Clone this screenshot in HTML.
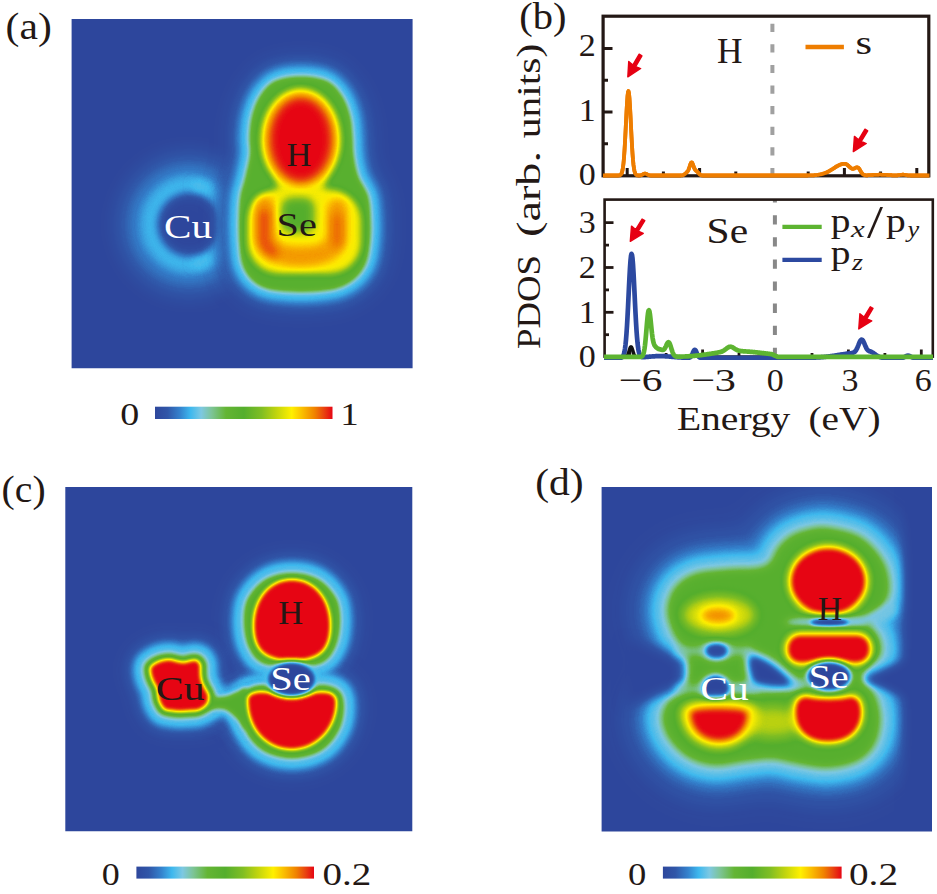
<!DOCTYPE html>
<html><head><meta charset="utf-8"><title>figure</title>
<style>
html,body{margin:0;padding:0;background:#fff;}
svg{display:block;}
text{font-family:"Liberation Serif",serif;fill:#231815;}
.w{fill:#fff;}
.it{font-style:italic;}
</style></head><body>
<svg width="937" height="894" viewBox="0 0 937 894">
<defs>
<filter id="jet" x="0" y="0" width="100%" height="100%" color-interpolation-filters="sRGB">
<feComponentTransfer>
<feFuncR type="table" tableValues="0.180 0.183 0.185 0.187 0.190 0.195 0.199 0.204 0.217 0.230 0.243 0.325 0.408 0.490 0.490 0.490 0.490 0.466 0.441 0.417 0.392 0.380 0.367 0.355 0.342 0.329 0.364 0.398 0.433 0.467 0.502 0.563 0.624 0.684 0.745 0.802 0.858 0.915 0.972 0.997 0.990 0.984 0.975 0.964 0.952 0.941 0.930 0.919 0.911 0.907 0.902"/>
<feFuncG type="table" tableValues="0.278 0.295 0.312 0.329 0.362 0.411 0.461 0.510 0.580 0.651 0.722 0.742 0.763 0.784 0.779 0.774 0.769 0.754 0.739 0.725 0.710 0.704 0.699 0.693 0.688 0.682 0.695 0.707 0.720 0.733 0.745 0.766 0.786 0.807 0.827 0.853 0.878 0.903 0.929 0.908 0.843 0.778 0.711 0.644 0.577 0.510 0.416 0.322 0.224 0.122 0.020"/>
<feFuncB type="table" tableValues="0.612 0.625 0.639 0.652 0.680 0.721 0.762 0.804 0.847 0.890 0.933 0.918 0.902 0.886 0.787 0.688 0.588 0.492 0.396 0.300 0.204 0.198 0.193 0.187 0.182 0.176 0.169 0.161 0.153 0.145 0.137 0.118 0.098 0.078 0.059 0.046 0.033 0.020 0.007 0.000 0.000 0.000 0.000 0.000 0.000 0.000 0.024 0.047 0.063 0.071 0.078"/>
</feComponentTransfer>
</filter>
<filter id="b2" filterUnits="userSpaceOnUse" x="0" y="0" width="937" height="894" color-interpolation-filters="sRGB"><feGaussianBlur stdDeviation="2"/></filter>
<filter id="b2_5" filterUnits="userSpaceOnUse" x="0" y="0" width="937" height="894" color-interpolation-filters="sRGB"><feGaussianBlur stdDeviation="2.5"/></filter>
<filter id="b3" filterUnits="userSpaceOnUse" x="0" y="0" width="937" height="894" color-interpolation-filters="sRGB"><feGaussianBlur stdDeviation="3"/></filter>
<filter id="b3_5" filterUnits="userSpaceOnUse" x="0" y="0" width="937" height="894" color-interpolation-filters="sRGB"><feGaussianBlur stdDeviation="3.5"/></filter>
<filter id="b4" filterUnits="userSpaceOnUse" x="0" y="0" width="937" height="894" color-interpolation-filters="sRGB"><feGaussianBlur stdDeviation="4"/></filter>
<filter id="b4_5" filterUnits="userSpaceOnUse" x="0" y="0" width="937" height="894" color-interpolation-filters="sRGB"><feGaussianBlur stdDeviation="4.5"/></filter>
<filter id="b5" filterUnits="userSpaceOnUse" x="0" y="0" width="937" height="894" color-interpolation-filters="sRGB"><feGaussianBlur stdDeviation="5"/></filter>
<filter id="b6" filterUnits="userSpaceOnUse" x="0" y="0" width="937" height="894" color-interpolation-filters="sRGB"><feGaussianBlur stdDeviation="6"/></filter>
<filter id="b7" filterUnits="userSpaceOnUse" x="0" y="0" width="937" height="894" color-interpolation-filters="sRGB"><feGaussianBlur stdDeviation="7"/></filter>
<filter id="b8" filterUnits="userSpaceOnUse" x="0" y="0" width="937" height="894" color-interpolation-filters="sRGB"><feGaussianBlur stdDeviation="8"/></filter>
<filter id="b9" filterUnits="userSpaceOnUse" x="0" y="0" width="937" height="894" color-interpolation-filters="sRGB"><feGaussianBlur stdDeviation="9"/></filter>
<filter id="b12" filterUnits="userSpaceOnUse" x="0" y="0" width="937" height="894" color-interpolation-filters="sRGB"><feGaussianBlur stdDeviation="12"/></filter>

<linearGradient id="cb" x1="0" x2="1" y1="0" y2="0"><stop offset="0.00" stop-color="rgb(46,71,156)"/><stop offset="0.07" stop-color="rgb(48,86,168)"/><stop offset="0.14" stop-color="rgb(52,130,205)"/><stop offset="0.20" stop-color="rgb(62,184,238)"/><stop offset="0.26" stop-color="rgb(125,200,226)"/><stop offset="0.32" stop-color="rgb(125,196,150)"/><stop offset="0.40" stop-color="rgb(100,181,52)"/><stop offset="0.50" stop-color="rgb(84,174,45)"/><stop offset="0.60" stop-color="rgb(128,190,35)"/><stop offset="0.68" stop-color="rgb(190,211,15)"/><stop offset="0.77" stop-color="rgb(255,240,0)"/><stop offset="0.83" stop-color="rgb(250,190,0)"/><stop offset="0.90" stop-color="rgb(240,130,0)"/><stop offset="0.95" stop-color="rgb(233,70,15)"/><stop offset="1.00" stop-color="rgb(230,5,20)"/></linearGradient>
<clipPath id="ca"><rect x="71.6" y="19" width="341" height="349.3"/></clipPath>
<clipPath id="cc"><rect x="65.3" y="486.9" width="347" height="344.3"/></clipPath>
<clipPath id="cd"><rect x="601.6" y="486.9" width="330.4" height="344.5"/></clipPath>
<clipPath id="cu"><rect x="603" y="10" width="326.5" height="168"/></clipPath>
<clipPath id="cl"><rect x="604" y="199.6" width="329.5" height="160.5"/></clipPath>
</defs>
<rect x="0" y="0" width="937" height="894" fill="#fff"/>

<!-- panel a -->
<g clip-path="url(#ca)"><g filter="url(#jet)">
<rect x="60" y="10" width="365" height="370" fill="#000"/>
<circle cx="189" cy="224.5" r="52" fill="none" stroke="rgb(28,28,28)" stroke-width="38" filter="url(#b9)"/>
<circle cx="189" cy="224.5" r="43" fill="none" stroke="rgb(45,45,45)" stroke-width="19" filter="url(#b6)"/>
<circle cx="190" cy="224.5" r="40" fill="none" stroke="rgb(52,52,52)" stroke-width="11" filter="url(#b4)"/>
<path d="M196,185.5 A39.5,39.5 0 0 1 196,263.5" fill="none" stroke="rgb(57,57,57)" stroke-width="8" stroke-linecap="round" stroke-linejoin="round" filter="url(#b4)"/>
<ellipse cx="226" cy="224" rx="8" ry="30" fill="rgb(51,51,51)" filter="url(#b5)"/>
<path d="M301.0,76.5 C309.7,76.5 320.2,77.8 327.0,81.0 C333.8,84.2 338.2,90.2 342.0,96.0 C345.8,101.8 348.2,109.2 350.0,116.0 C351.8,122.8 351.9,130.5 352.5,137.0 C353.1,143.5 352.6,148.5 353.5,155.0 C354.4,161.5 355.6,169.2 358.0,176.0 C360.4,182.8 365.9,188.7 368.0,196.0 C370.1,203.3 370.2,212.3 370.5,220.0 C370.8,227.7 370.8,234.8 370.0,242.0 C369.2,249.2 368.5,256.9 366.0,263.0 C363.5,269.1 359.7,274.3 355.0,278.5 C350.3,282.7 344.7,285.8 338.0,288.0 C331.3,290.2 323.5,290.9 315.0,291.5 C306.5,292.1 295.3,292.1 287.0,291.5 C278.7,290.9 271.1,290.2 265.0,288.0 C258.9,285.8 254.3,282.7 250.5,278.5 C246.7,274.3 243.8,269.1 242.0,263.0 C240.2,256.9 239.9,249.5 239.4,242.0 C238.9,234.5 238.8,225.7 239.0,218.0 C239.2,210.3 239.5,202.5 240.5,196.0 C241.5,189.5 243.4,185.8 245.0,179.0 C246.6,172.2 249.2,162.0 250.0,155.0 C250.8,148.0 249.2,143.5 249.5,137.0 C249.8,130.5 250.2,122.8 252.0,116.0 C253.8,109.2 256.2,101.8 260.0,96.0 C263.8,90.2 268.2,84.2 275.0,81.0 C281.8,77.8 292.3,76.5 301.0,76.5 Z" fill="rgb(15,15,15)" stroke="rgb(15,15,15)" stroke-width="44" stroke-linejoin="round" filter="url(#b8)"/>
<path d="M301.0,76.5 C309.7,76.5 320.2,77.8 327.0,81.0 C333.8,84.2 338.2,90.2 342.0,96.0 C345.8,101.8 348.2,109.2 350.0,116.0 C351.8,122.8 351.9,130.5 352.5,137.0 C353.1,143.5 352.6,148.5 353.5,155.0 C354.4,161.5 355.6,169.2 358.0,176.0 C360.4,182.8 365.9,188.7 368.0,196.0 C370.1,203.3 370.2,212.3 370.5,220.0 C370.8,227.7 370.8,234.8 370.0,242.0 C369.2,249.2 368.5,256.9 366.0,263.0 C363.5,269.1 359.7,274.3 355.0,278.5 C350.3,282.7 344.7,285.8 338.0,288.0 C331.3,290.2 323.5,290.9 315.0,291.5 C306.5,292.1 295.3,292.1 287.0,291.5 C278.7,290.9 271.1,290.2 265.0,288.0 C258.9,285.8 254.3,282.7 250.5,278.5 C246.7,274.3 243.8,269.1 242.0,263.0 C240.2,256.9 239.9,249.5 239.4,242.0 C238.9,234.5 238.8,225.7 239.0,218.0 C239.2,210.3 239.5,202.5 240.5,196.0 C241.5,189.5 243.4,185.8 245.0,179.0 C246.6,172.2 249.2,162.0 250.0,155.0 C250.8,148.0 249.2,143.5 249.5,137.0 C249.8,130.5 250.2,122.8 252.0,116.0 C253.8,109.2 256.2,101.8 260.0,96.0 C263.8,90.2 268.2,84.2 275.0,81.0 C281.8,77.8 292.3,76.5 301.0,76.5 Z" fill="rgb(31,31,31)" stroke="rgb(31,31,31)" stroke-width="31" stroke-linejoin="round" filter="url(#b5)"/>
<path d="M301.0,76.5 C309.7,76.5 320.2,77.8 327.0,81.0 C333.8,84.2 338.2,90.2 342.0,96.0 C345.8,101.8 348.2,109.2 350.0,116.0 C351.8,122.8 351.9,130.5 352.5,137.0 C353.1,143.5 352.6,148.5 353.5,155.0 C354.4,161.5 355.6,169.2 358.0,176.0 C360.4,182.8 365.9,188.7 368.0,196.0 C370.1,203.3 370.2,212.3 370.5,220.0 C370.8,227.7 370.8,234.8 370.0,242.0 C369.2,249.2 368.5,256.9 366.0,263.0 C363.5,269.1 359.7,274.3 355.0,278.5 C350.3,282.7 344.7,285.8 338.0,288.0 C331.3,290.2 323.5,290.9 315.0,291.5 C306.5,292.1 295.3,292.1 287.0,291.5 C278.7,290.9 271.1,290.2 265.0,288.0 C258.9,285.8 254.3,282.7 250.5,278.5 C246.7,274.3 243.8,269.1 242.0,263.0 C240.2,256.9 239.9,249.5 239.4,242.0 C238.9,234.5 238.8,225.7 239.0,218.0 C239.2,210.3 239.5,202.5 240.5,196.0 C241.5,189.5 243.4,185.8 245.0,179.0 C246.6,172.2 249.2,162.0 250.0,155.0 C250.8,148.0 249.2,143.5 249.5,137.0 C249.8,130.5 250.2,122.8 252.0,116.0 C253.8,109.2 256.2,101.8 260.0,96.0 C263.8,90.2 268.2,84.2 275.0,81.0 C281.8,77.8 292.3,76.5 301.0,76.5 Z" fill="rgb(55,55,55)" stroke="rgb(55,55,55)" stroke-width="19" stroke-linejoin="round" filter="url(#b3)"/>
<path d="M301.0,76.5 C309.7,76.5 320.2,77.8 327.0,81.0 C333.8,84.2 338.2,90.2 342.0,96.0 C345.8,101.8 348.2,109.2 350.0,116.0 C351.8,122.8 351.9,130.5 352.5,137.0 C353.1,143.5 352.6,148.5 353.5,155.0 C354.4,161.5 355.6,169.2 358.0,176.0 C360.4,182.8 365.9,188.7 368.0,196.0 C370.1,203.3 370.2,212.3 370.5,220.0 C370.8,227.7 370.8,234.8 370.0,242.0 C369.2,249.2 368.5,256.9 366.0,263.0 C363.5,269.1 359.7,274.3 355.0,278.5 C350.3,282.7 344.7,285.8 338.0,288.0 C331.3,290.2 323.5,290.9 315.0,291.5 C306.5,292.1 295.3,292.1 287.0,291.5 C278.7,290.9 271.1,290.2 265.0,288.0 C258.9,285.8 254.3,282.7 250.5,278.5 C246.7,274.3 243.8,269.1 242.0,263.0 C240.2,256.9 239.9,249.5 239.4,242.0 C238.9,234.5 238.8,225.7 239.0,218.0 C239.2,210.3 239.5,202.5 240.5,196.0 C241.5,189.5 243.4,185.8 245.0,179.0 C246.6,172.2 249.2,162.0 250.0,155.0 C250.8,148.0 249.2,143.5 249.5,137.0 C249.8,130.5 250.2,122.8 252.0,116.0 C253.8,109.2 256.2,101.8 260.0,96.0 C263.8,90.2 268.2,84.2 275.0,81.0 C281.8,77.8 292.3,76.5 301.0,76.5 Z" fill="rgb(120,120,120)" filter="url(#b2_5)"/>
<ellipse cx="300.8" cy="139.5" rx="40.5" ry="52" fill="rgb(195,195,195)" filter="url(#b3_5)"/>
<rect x="277.5" y="172" width="47" height="33" fill="rgb(191,191,191)" filter="url(#b4)"/>
<rect x="247" y="189" width="114.5" height="85" rx="32" ry="32" fill="rgb(195,195,195)" filter="url(#b3_5)"/>
<ellipse cx="300.8" cy="140" rx="35" ry="46" fill="rgb(230,230,230)" filter="url(#b5)"/>
<ellipse cx="300.8" cy="139.5" rx="30" ry="41" fill="rgb(255,255,255)" filter="url(#b5)"/>
<path d="M265,206 L265,236 Q266,256 300,256.5 Q336,256 337,236 L337,209" fill="none" stroke="rgb(222,222,222)" stroke-width="21" stroke-linecap="round" stroke-linejoin="round" filter="url(#b4_5)"/>
<path d="M264,214 L264,240 Q265,248 273,252" fill="none" stroke="rgb(242,242,242)" stroke-width="12" stroke-linecap="round" stroke-linejoin="round" filter="url(#b5)"/>
<path d="M337,218 L337,243" fill="none" stroke="rgb(237,237,237)" stroke-width="10" stroke-linecap="round" stroke-linejoin="round" filter="url(#b5)"/>
<rect x="282" y="198" width="32" height="34" rx="9" ry="9" fill="rgb(128,128,128)" filter="url(#b4)"/>

</g></g>
<!-- panel c -->
<g clip-path="url(#cc)"><g filter="url(#jet)">
<rect x="55" y="476" width="370" height="366" fill="#000"/>
<path d="M292.0,573.2 C300.4,573.2 310.0,574.9 317.4,579.1 C324.7,583.3 332.1,591.3 335.9,598.6 C339.6,605.9 339.9,614.8 339.8,623.0 C339.6,631.1 338.0,640.7 334.9,647.3 C331.8,654.0 328.4,659.8 321.2,662.9 C314.1,666.0 301.8,665.9 292.0,665.9 C282.2,665.9 269.9,666.0 262.8,662.9 C255.6,659.8 252.2,654.0 249.1,647.3 C246.0,640.7 244.4,631.1 244.2,623.0 C244.1,614.8 244.4,605.9 248.1,598.6 C251.9,591.3 259.3,583.3 266.6,579.1 C274.0,574.9 283.6,573.2 292.0,573.2 Z" fill="rgb(13,13,13)" stroke="rgb(13,13,13)" stroke-width="44" stroke-linejoin="round" filter="url(#b7)"/>
<path d="M246.2,690.8 C249.9,687.2 255.1,685.2 262.8,684.9 C270.4,684.6 282.2,688.8 292.0,688.8 C301.8,688.8 313.4,684.6 321.2,684.9 C329.1,685.2 335.1,687.2 338.8,690.8 C342.5,694.3 343.7,699.9 343.7,706.4 C343.7,712.9 342.5,722.4 338.8,729.8 C335.1,737.1 329.1,745.5 321.2,750.2 C313.4,754.9 301.8,758.0 292.0,758.0 C282.2,758.0 270.6,754.9 262.8,750.2 C254.9,745.5 248.9,737.1 245.2,729.8 C241.5,722.4 240.2,712.9 240.3,706.4 C240.5,699.9 242.4,694.3 246.2,690.8 Z" fill="rgb(13,13,13)" stroke="rgb(13,13,13)" stroke-width="44" stroke-linejoin="round" filter="url(#b7)"/>
<path d="M151.8,665.5 C153.5,664.1 157.0,662.0 160.0,661.0 C163.0,660.0 166.8,659.4 169.8,659.5 C172.8,659.6 175.5,661.0 178.0,661.5 C180.5,662.0 182.5,662.4 184.7,662.2 C186.9,662.0 189.0,660.8 191.0,660.5 C193.0,660.2 195.1,659.5 196.7,660.2 C198.3,660.9 199.9,662.9 200.5,664.9 C201.1,666.9 200.3,669.4 200.5,672.0 C200.7,674.6 200.8,677.8 201.5,680.5 C202.2,683.2 203.8,685.5 205.0,688.0 C206.2,690.5 208.4,692.8 208.8,695.4 C209.2,698.0 208.4,701.6 207.3,703.8 C206.2,706.0 203.8,707.4 202.0,708.5 C200.2,709.6 199.0,710.2 196.7,710.6 C194.4,711.0 191.0,710.9 188.0,711.0 C185.0,711.1 181.7,711.5 178.7,711.4 C175.7,711.3 172.5,710.9 170.0,710.5 C167.5,710.1 165.6,710.4 163.8,708.9 C162.0,707.4 160.3,703.7 159.3,701.4 C158.3,699.1 158.3,697.0 158.0,695.0 C157.7,693.0 158.0,691.4 157.3,689.4 C156.6,687.4 155.0,685.0 154.0,683.0 C153.0,681.0 152.2,679.8 151.5,677.5 C150.8,675.2 149.9,671.5 150.0,669.5 C150.1,667.5 150.1,666.9 151.8,665.5 Z" fill="rgb(13,13,13)" stroke="rgb(13,13,13)" stroke-width="52" stroke-linejoin="round" filter="url(#b7)"/>
<path d="M205.0,699.0 C208.3,697.2 219.5,698.2 225.0,697.0 C230.5,695.8 234.3,693.2 238.0,692.0 C241.7,690.8 245.5,684.2 247.0,690.0 C248.5,695.8 248.5,722.2 247.0,727.0 C245.5,731.8 241.7,722.0 238.0,719.0 C234.3,716.0 230.5,710.8 225.0,709.0 C219.5,707.2 208.3,709.7 205.0,708.0 C201.7,706.3 201.7,700.8 205.0,699.0 Z" fill="rgb(13,13,13)" stroke="rgb(13,13,13)" stroke-width="28" stroke-linejoin="round" filter="url(#b7)"/>
<path d="M292.0,573.2 C300.4,573.2 310.0,574.9 317.4,579.1 C324.7,583.3 332.1,591.3 335.9,598.6 C339.6,605.9 339.9,614.8 339.8,623.0 C339.6,631.1 338.0,640.7 334.9,647.3 C331.8,654.0 328.4,659.8 321.2,662.9 C314.1,666.0 301.8,665.9 292.0,665.9 C282.2,665.9 269.9,666.0 262.8,662.9 C255.6,659.8 252.2,654.0 249.1,647.3 C246.0,640.7 244.4,631.1 244.2,623.0 C244.1,614.8 244.4,605.9 248.1,598.6 C251.9,591.3 259.3,583.3 266.6,579.1 C274.0,574.9 283.6,573.2 292.0,573.2 Z" fill="rgb(28,28,28)" stroke="rgb(28,28,28)" stroke-width="32" stroke-linejoin="round" filter="url(#b5)"/>
<path d="M246.2,690.8 C249.9,687.2 255.1,685.2 262.8,684.9 C270.4,684.6 282.2,688.8 292.0,688.8 C301.8,688.8 313.4,684.6 321.2,684.9 C329.1,685.2 335.1,687.2 338.8,690.8 C342.5,694.3 343.7,699.9 343.7,706.4 C343.7,712.9 342.5,722.4 338.8,729.8 C335.1,737.1 329.1,745.5 321.2,750.2 C313.4,754.9 301.8,758.0 292.0,758.0 C282.2,758.0 270.6,754.9 262.8,750.2 C254.9,745.5 248.9,737.1 245.2,729.8 C241.5,722.4 240.2,712.9 240.3,706.4 C240.5,699.9 242.4,694.3 246.2,690.8 Z" fill="rgb(28,28,28)" stroke="rgb(28,28,28)" stroke-width="32" stroke-linejoin="round" filter="url(#b5)"/>
<path d="M151.8,665.5 C153.5,664.1 157.0,662.0 160.0,661.0 C163.0,660.0 166.8,659.4 169.8,659.5 C172.8,659.6 175.5,661.0 178.0,661.5 C180.5,662.0 182.5,662.4 184.7,662.2 C186.9,662.0 189.0,660.8 191.0,660.5 C193.0,660.2 195.1,659.5 196.7,660.2 C198.3,660.9 199.9,662.9 200.5,664.9 C201.1,666.9 200.3,669.4 200.5,672.0 C200.7,674.6 200.8,677.8 201.5,680.5 C202.2,683.2 203.8,685.5 205.0,688.0 C206.2,690.5 208.4,692.8 208.8,695.4 C209.2,698.0 208.4,701.6 207.3,703.8 C206.2,706.0 203.8,707.4 202.0,708.5 C200.2,709.6 199.0,710.2 196.7,710.6 C194.4,711.0 191.0,710.9 188.0,711.0 C185.0,711.1 181.7,711.5 178.7,711.4 C175.7,711.3 172.5,710.9 170.0,710.5 C167.5,710.1 165.6,710.4 163.8,708.9 C162.0,707.4 160.3,703.7 159.3,701.4 C158.3,699.1 158.3,697.0 158.0,695.0 C157.7,693.0 158.0,691.4 157.3,689.4 C156.6,687.4 155.0,685.0 154.0,683.0 C153.0,681.0 152.2,679.8 151.5,677.5 C150.8,675.2 149.9,671.5 150.0,669.5 C150.1,667.5 150.1,666.9 151.8,665.5 Z" fill="rgb(28,28,28)" stroke="rgb(28,28,28)" stroke-width="41" stroke-linejoin="round" filter="url(#b5)"/>
<path d="M205.0,699.0 C208.3,697.2 219.5,698.2 225.0,697.0 C230.5,695.8 234.3,693.2 238.0,692.0 C241.7,690.8 245.5,684.2 247.0,690.0 C248.5,695.8 248.5,722.2 247.0,727.0 C245.5,731.8 241.7,722.0 238.0,719.0 C234.3,716.0 230.5,710.8 225.0,709.0 C219.5,707.2 208.3,709.7 205.0,708.0 C201.7,706.3 201.7,700.8 205.0,699.0 Z" fill="rgb(28,28,28)" stroke="rgb(28,28,28)" stroke-width="20" stroke-linejoin="round" filter="url(#b5)"/>
<path d="M292.0,573.2 C300.4,573.2 310.0,574.9 317.4,579.1 C324.7,583.3 332.1,591.3 335.9,598.6 C339.6,605.9 339.9,614.8 339.8,623.0 C339.6,631.1 338.0,640.7 334.9,647.3 C331.8,654.0 328.4,659.8 321.2,662.9 C314.1,666.0 301.8,665.9 292.0,665.9 C282.2,665.9 269.9,666.0 262.8,662.9 C255.6,659.8 252.2,654.0 249.1,647.3 C246.0,640.7 244.4,631.1 244.2,623.0 C244.1,614.8 244.4,605.9 248.1,598.6 C251.9,591.3 259.3,583.3 266.6,579.1 C274.0,574.9 283.6,573.2 292.0,573.2 Z" fill="rgb(56,56,56)" stroke="rgb(56,56,56)" stroke-width="23" stroke-linejoin="round" filter="url(#b3)"/>
<path d="M246.2,690.8 C249.9,687.2 255.1,685.2 262.8,684.9 C270.4,684.6 282.2,688.8 292.0,688.8 C301.8,688.8 313.4,684.6 321.2,684.9 C329.1,685.2 335.1,687.2 338.8,690.8 C342.5,694.3 343.7,699.9 343.7,706.4 C343.7,712.9 342.5,722.4 338.8,729.8 C335.1,737.1 329.1,745.5 321.2,750.2 C313.4,754.9 301.8,758.0 292.0,758.0 C282.2,758.0 270.6,754.9 262.8,750.2 C254.9,745.5 248.9,737.1 245.2,729.8 C241.5,722.4 240.2,712.9 240.3,706.4 C240.5,699.9 242.4,694.3 246.2,690.8 Z" fill="rgb(56,56,56)" stroke="rgb(56,56,56)" stroke-width="23" stroke-linejoin="round" filter="url(#b3)"/>
<path d="M151.8,665.5 C153.5,664.1 157.0,662.0 160.0,661.0 C163.0,660.0 166.8,659.4 169.8,659.5 C172.8,659.6 175.5,661.0 178.0,661.5 C180.5,662.0 182.5,662.4 184.7,662.2 C186.9,662.0 189.0,660.8 191.0,660.5 C193.0,660.2 195.1,659.5 196.7,660.2 C198.3,660.9 199.9,662.9 200.5,664.9 C201.1,666.9 200.3,669.4 200.5,672.0 C200.7,674.6 200.8,677.8 201.5,680.5 C202.2,683.2 203.8,685.5 205.0,688.0 C206.2,690.5 208.4,692.8 208.8,695.4 C209.2,698.0 208.4,701.6 207.3,703.8 C206.2,706.0 203.8,707.4 202.0,708.5 C200.2,709.6 199.0,710.2 196.7,710.6 C194.4,711.0 191.0,710.9 188.0,711.0 C185.0,711.1 181.7,711.5 178.7,711.4 C175.7,711.3 172.5,710.9 170.0,710.5 C167.5,710.1 165.6,710.4 163.8,708.9 C162.0,707.4 160.3,703.7 159.3,701.4 C158.3,699.1 158.3,697.0 158.0,695.0 C157.7,693.0 158.0,691.4 157.3,689.4 C156.6,687.4 155.0,685.0 154.0,683.0 C153.0,681.0 152.2,679.8 151.5,677.5 C150.8,675.2 149.9,671.5 150.0,669.5 C150.1,667.5 150.1,666.9 151.8,665.5 Z" fill="rgb(56,56,56)" stroke="rgb(56,56,56)" stroke-width="33" stroke-linejoin="round" filter="url(#b3)"/>
<path d="M205.0,699.0 C208.3,697.2 219.5,698.2 225.0,697.0 C230.5,695.8 234.3,693.2 238.0,692.0 C241.7,690.8 245.5,684.2 247.0,690.0 C248.5,695.8 248.5,722.2 247.0,727.0 C245.5,731.8 241.7,722.0 238.0,719.0 C234.3,716.0 230.5,710.8 225.0,709.0 C219.5,707.2 208.3,709.7 205.0,708.0 C201.7,706.3 201.7,700.8 205.0,699.0 Z" fill="rgb(56,56,56)" stroke="rgb(56,56,56)" stroke-width="15" stroke-linejoin="round" filter="url(#b3)"/>
<path d="M225,690 Q250,683 268,681" fill="none" stroke="rgb(43,43,43)" stroke-width="4" stroke-linecap="round" stroke-linejoin="round" filter="url(#b3)"/>
<path d="M292.0,573.2 C300.4,573.2 310.0,574.9 317.4,579.1 C324.7,583.3 332.1,591.3 335.9,598.6 C339.6,605.9 339.9,614.8 339.8,623.0 C339.6,631.1 338.0,640.7 334.9,647.3 C331.8,654.0 328.4,659.8 321.2,662.9 C314.1,666.0 301.8,665.9 292.0,665.9 C282.2,665.9 269.9,666.0 262.8,662.9 C255.6,659.8 252.2,654.0 249.1,647.3 C246.0,640.7 244.4,631.1 244.2,623.0 C244.1,614.8 244.4,605.9 248.1,598.6 C251.9,591.3 259.3,583.3 266.6,579.1 C274.0,574.9 283.6,573.2 292.0,573.2 Z" fill="rgb(125,125,125)" filter="url(#b2_5)"/>
<path d="M246.2,690.8 C249.9,687.2 255.1,685.2 262.8,684.9 C270.4,684.6 282.2,688.8 292.0,688.8 C301.8,688.8 313.4,684.6 321.2,684.9 C329.1,685.2 335.1,687.2 338.8,690.8 C342.5,694.3 343.7,699.9 343.7,706.4 C343.7,712.9 342.5,722.4 338.8,729.8 C335.1,737.1 329.1,745.5 321.2,750.2 C313.4,754.9 301.8,758.0 292.0,758.0 C282.2,758.0 270.6,754.9 262.8,750.2 C254.9,745.5 248.9,737.1 245.2,729.8 C241.5,722.4 240.2,712.9 240.3,706.4 C240.5,699.9 242.4,694.3 246.2,690.8 Z" fill="rgb(125,125,125)" filter="url(#b2_5)"/>
<path d="M151.8,665.5 C153.5,664.1 157.0,662.0 160.0,661.0 C163.0,660.0 166.8,659.4 169.8,659.5 C172.8,659.6 175.5,661.0 178.0,661.5 C180.5,662.0 182.5,662.4 184.7,662.2 C186.9,662.0 189.0,660.8 191.0,660.5 C193.0,660.2 195.1,659.5 196.7,660.2 C198.3,660.9 199.9,662.9 200.5,664.9 C201.1,666.9 200.3,669.4 200.5,672.0 C200.7,674.6 200.8,677.8 201.5,680.5 C202.2,683.2 203.8,685.5 205.0,688.0 C206.2,690.5 208.4,692.8 208.8,695.4 C209.2,698.0 208.4,701.6 207.3,703.8 C206.2,706.0 203.8,707.4 202.0,708.5 C200.2,709.6 199.0,710.2 196.7,710.6 C194.4,711.0 191.0,710.9 188.0,711.0 C185.0,711.1 181.7,711.5 178.7,711.4 C175.7,711.3 172.5,710.9 170.0,710.5 C167.5,710.1 165.6,710.4 163.8,708.9 C162.0,707.4 160.3,703.7 159.3,701.4 C158.3,699.1 158.3,697.0 158.0,695.0 C157.7,693.0 158.0,691.4 157.3,689.4 C156.6,687.4 155.0,685.0 154.0,683.0 C153.0,681.0 152.2,679.8 151.5,677.5 C150.8,675.2 149.9,671.5 150.0,669.5 C150.1,667.5 150.1,666.9 151.8,665.5 Z" fill="rgb(125,125,125)" stroke="rgb(125,125,125)" stroke-width="12" stroke-linejoin="round" filter="url(#b2_5)"/>
<path d="M205.0,699.0 C208.3,697.2 219.5,698.2 225.0,697.0 C230.5,695.8 234.3,693.2 238.0,692.0 C241.7,690.8 245.5,684.2 247.0,690.0 C248.5,695.8 248.5,722.2 247.0,727.0 C245.5,731.8 241.7,722.0 238.0,719.0 C234.3,716.0 230.5,710.8 225.0,709.0 C219.5,707.2 208.3,709.7 205.0,708.0 C201.7,706.3 201.7,700.8 205.0,699.0 Z" fill="rgb(125,125,125)" filter="url(#b2_5)"/>
<path d="M292,579 C316,579 331,600 331,625 C331,648 322,661 292,661 C262,661 253,648 253,625 C253,600 268,579 292,579 Z" fill="rgb(255,255,255)" filter="url(#b2)"/>
<path d="M247,700 C247,692 258,690 270,692 C280,697 304,697 314,692 C326,690 337,692 337,702 C337,730 315,750 292,750 C267,750 247,730 247,700 Z" fill="rgb(255,255,255)" filter="url(#b2)"/>
<path d="M151.8,665.5 C153.5,664.1 157.0,662.0 160.0,661.0 C163.0,660.0 166.8,659.4 169.8,659.5 C172.8,659.6 175.5,661.0 178.0,661.5 C180.5,662.0 182.5,662.4 184.7,662.2 C186.9,662.0 189.0,660.8 191.0,660.5 C193.0,660.2 195.1,659.5 196.7,660.2 C198.3,660.9 199.9,662.9 200.5,664.9 C201.1,666.9 200.3,669.4 200.5,672.0 C200.7,674.6 200.8,677.8 201.5,680.5 C202.2,683.2 203.8,685.5 205.0,688.0 C206.2,690.5 208.4,692.8 208.8,695.4 C209.2,698.0 208.4,701.6 207.3,703.8 C206.2,706.0 203.8,707.4 202.0,708.5 C200.2,709.6 199.0,710.2 196.7,710.6 C194.4,711.0 191.0,710.9 188.0,711.0 C185.0,711.1 181.7,711.5 178.7,711.4 C175.7,711.3 172.5,710.9 170.0,710.5 C167.5,710.1 165.6,710.4 163.8,708.9 C162.0,707.4 160.3,703.7 159.3,701.4 C158.3,699.1 158.3,697.0 158.0,695.0 C157.7,693.0 158.0,691.4 157.3,689.4 C156.6,687.4 155.0,685.0 154.0,683.0 C153.0,681.0 152.2,679.8 151.5,677.5 C150.8,675.2 149.9,671.5 150.0,669.5 C150.1,667.5 150.1,666.9 151.8,665.5 Z" fill="rgb(255,255,255)" stroke="rgb(255,255,255)" stroke-width="1" stroke-linejoin="round" filter="url(#b2)"/>
<ellipse cx="291.5" cy="679" rx="26" ry="18" fill="rgb(66,66,66)" filter="url(#b2_5)"/>
<ellipse cx="291.5" cy="679" rx="23" ry="15.5" fill="rgb(0,0,0)" filter="url(#b2)"/>

</g></g>
<!-- panel d -->
<g clip-path="url(#cd)"><g filter="url(#jet)">
<rect x="592" y="476" width="345" height="366" fill="#000"/>
<path d="M828.0,528.0 C836.5,529.2 851.0,531.7 860.0,537.0 C869.0,542.3 877.2,552.0 882.0,560.0 C886.8,568.0 888.7,577.3 889.0,585.0 C889.3,592.7 887.3,600.0 884.0,606.0 C880.7,612.0 869.8,615.7 869.0,621.0 C868.2,626.3 877.2,632.3 879.0,638.0 C880.8,643.7 882.2,650.0 880.0,655.0 C877.8,660.0 868.7,663.8 866.0,668.0 C863.3,672.2 862.5,675.3 864.0,680.0 C865.5,684.7 872.3,689.3 875.0,696.0 C877.7,702.7 880.2,711.8 880.0,720.0 C879.8,728.2 877.8,738.2 874.0,745.0 C870.2,751.8 864.7,757.2 857.0,761.0 C849.3,764.8 837.5,767.0 828.0,767.5 C818.5,768.0 809.3,765.5 800.0,764.0 C790.7,762.5 781.2,759.0 772.0,758.5 C762.8,758.0 754.5,759.9 745.0,761.0 C735.5,762.1 724.2,765.5 715.0,765.0 C705.8,764.5 697.3,762.0 690.0,758.0 C682.7,754.0 675.6,747.3 671.0,741.0 C666.4,734.7 663.0,726.5 662.5,720.0 C662.0,713.5 664.8,706.8 668.0,702.0 C671.2,697.2 678.7,696.0 682.0,691.0 C685.3,686.0 687.5,678.5 688.0,672.0 C688.5,665.5 687.5,658.7 685.0,652.0 C682.5,645.3 675.9,639.0 673.0,632.0 C670.1,625.0 667.2,617.3 667.5,610.0 C667.8,602.7 670.4,594.0 675.0,588.0 C679.6,582.0 685.8,577.1 695.0,574.0 C704.2,570.9 719.8,570.4 730.0,569.5 C740.2,568.6 749.3,569.6 756.0,568.5 C762.7,567.4 766.3,566.4 770.0,563.0 C773.7,559.6 774.5,552.5 778.0,548.0 C781.5,543.5 785.8,539.1 791.0,536.0 C796.2,532.9 802.8,530.8 809.0,529.5 C815.2,528.2 819.5,526.8 828.0,528.0 Z" fill="rgb(13,13,13)" stroke="rgb(13,13,13)" stroke-width="84" stroke-linejoin="round" filter="url(#b12)"/>
<path d="M828.0,528.0 C836.5,529.2 851.0,531.7 860.0,537.0 C869.0,542.3 877.2,552.0 882.0,560.0 C886.8,568.0 888.7,577.3 889.0,585.0 C889.3,592.7 887.3,600.0 884.0,606.0 C880.7,612.0 869.8,615.7 869.0,621.0 C868.2,626.3 877.2,632.3 879.0,638.0 C880.8,643.7 882.2,650.0 880.0,655.0 C877.8,660.0 868.7,663.8 866.0,668.0 C863.3,672.2 862.5,675.3 864.0,680.0 C865.5,684.7 872.3,689.3 875.0,696.0 C877.7,702.7 880.2,711.8 880.0,720.0 C879.8,728.2 877.8,738.2 874.0,745.0 C870.2,751.8 864.7,757.2 857.0,761.0 C849.3,764.8 837.5,767.0 828.0,767.5 C818.5,768.0 809.3,765.5 800.0,764.0 C790.7,762.5 781.2,759.0 772.0,758.5 C762.8,758.0 754.5,759.9 745.0,761.0 C735.5,762.1 724.2,765.5 715.0,765.0 C705.8,764.5 697.3,762.0 690.0,758.0 C682.7,754.0 675.6,747.3 671.0,741.0 C666.4,734.7 663.0,726.5 662.5,720.0 C662.0,713.5 664.8,706.8 668.0,702.0 C671.2,697.2 678.7,696.0 682.0,691.0 C685.3,686.0 687.5,678.5 688.0,672.0 C688.5,665.5 687.5,658.7 685.0,652.0 C682.5,645.3 675.9,639.0 673.0,632.0 C670.1,625.0 667.2,617.3 667.5,610.0 C667.8,602.7 670.4,594.0 675.0,588.0 C679.6,582.0 685.8,577.1 695.0,574.0 C704.2,570.9 719.8,570.4 730.0,569.5 C740.2,568.6 749.3,569.6 756.0,568.5 C762.7,567.4 766.3,566.4 770.0,563.0 C773.7,559.6 774.5,552.5 778.0,548.0 C781.5,543.5 785.8,539.1 791.0,536.0 C796.2,532.9 802.8,530.8 809.0,529.5 C815.2,528.2 819.5,526.8 828.0,528.0 Z" fill="rgb(26,26,26)" stroke="rgb(26,26,26)" stroke-width="62" stroke-linejoin="round" filter="url(#b9)"/>
<path d="M828.0,528.0 C836.5,529.2 851.0,531.7 860.0,537.0 C869.0,542.3 877.2,552.0 882.0,560.0 C886.8,568.0 888.7,577.3 889.0,585.0 C889.3,592.7 887.3,600.0 884.0,606.0 C880.7,612.0 869.8,615.7 869.0,621.0 C868.2,626.3 877.2,632.3 879.0,638.0 C880.8,643.7 882.2,650.0 880.0,655.0 C877.8,660.0 868.7,663.8 866.0,668.0 C863.3,672.2 862.5,675.3 864.0,680.0 C865.5,684.7 872.3,689.3 875.0,696.0 C877.7,702.7 880.2,711.8 880.0,720.0 C879.8,728.2 877.8,738.2 874.0,745.0 C870.2,751.8 864.7,757.2 857.0,761.0 C849.3,764.8 837.5,767.0 828.0,767.5 C818.5,768.0 809.3,765.5 800.0,764.0 C790.7,762.5 781.2,759.0 772.0,758.5 C762.8,758.0 754.5,759.9 745.0,761.0 C735.5,762.1 724.2,765.5 715.0,765.0 C705.8,764.5 697.3,762.0 690.0,758.0 C682.7,754.0 675.6,747.3 671.0,741.0 C666.4,734.7 663.0,726.5 662.5,720.0 C662.0,713.5 664.8,706.8 668.0,702.0 C671.2,697.2 678.7,696.0 682.0,691.0 C685.3,686.0 687.5,678.5 688.0,672.0 C688.5,665.5 687.5,658.7 685.0,652.0 C682.5,645.3 675.9,639.0 673.0,632.0 C670.1,625.0 667.2,617.3 667.5,610.0 C667.8,602.7 670.4,594.0 675.0,588.0 C679.6,582.0 685.8,577.1 695.0,574.0 C704.2,570.9 719.8,570.4 730.0,569.5 C740.2,568.6 749.3,569.6 756.0,568.5 C762.7,567.4 766.3,566.4 770.0,563.0 C773.7,559.6 774.5,552.5 778.0,548.0 C781.5,543.5 785.8,539.1 791.0,536.0 C796.2,532.9 802.8,530.8 809.0,529.5 C815.2,528.2 819.5,526.8 828.0,528.0 Z" fill="rgb(43,43,43)" stroke="rgb(43,43,43)" stroke-width="44" stroke-linejoin="round" filter="url(#b6)"/>
<path d="M828.0,528.0 C836.5,529.2 851.0,531.7 860.0,537.0 C869.0,542.3 877.2,552.0 882.0,560.0 C886.8,568.0 888.7,577.3 889.0,585.0 C889.3,592.7 887.3,600.0 884.0,606.0 C880.7,612.0 869.8,615.7 869.0,621.0 C868.2,626.3 877.2,632.3 879.0,638.0 C880.8,643.7 882.2,650.0 880.0,655.0 C877.8,660.0 868.7,663.8 866.0,668.0 C863.3,672.2 862.5,675.3 864.0,680.0 C865.5,684.7 872.3,689.3 875.0,696.0 C877.7,702.7 880.2,711.8 880.0,720.0 C879.8,728.2 877.8,738.2 874.0,745.0 C870.2,751.8 864.7,757.2 857.0,761.0 C849.3,764.8 837.5,767.0 828.0,767.5 C818.5,768.0 809.3,765.5 800.0,764.0 C790.7,762.5 781.2,759.0 772.0,758.5 C762.8,758.0 754.5,759.9 745.0,761.0 C735.5,762.1 724.2,765.5 715.0,765.0 C705.8,764.5 697.3,762.0 690.0,758.0 C682.7,754.0 675.6,747.3 671.0,741.0 C666.4,734.7 663.0,726.5 662.5,720.0 C662.0,713.5 664.8,706.8 668.0,702.0 C671.2,697.2 678.7,696.0 682.0,691.0 C685.3,686.0 687.5,678.5 688.0,672.0 C688.5,665.5 687.5,658.7 685.0,652.0 C682.5,645.3 675.9,639.0 673.0,632.0 C670.1,625.0 667.2,617.3 667.5,610.0 C667.8,602.7 670.4,594.0 675.0,588.0 C679.6,582.0 685.8,577.1 695.0,574.0 C704.2,570.9 719.8,570.4 730.0,569.5 C740.2,568.6 749.3,569.6 756.0,568.5 C762.7,567.4 766.3,566.4 770.0,563.0 C773.7,559.6 774.5,552.5 778.0,548.0 C781.5,543.5 785.8,539.1 791.0,536.0 C796.2,532.9 802.8,530.8 809.0,529.5 C815.2,528.2 819.5,526.8 828.0,528.0 Z" fill="rgb(62,62,62)" stroke="rgb(62,62,62)" stroke-width="28" stroke-linejoin="round" filter="url(#b5)"/>
<rect x="905" y="480" width="40" height="360" fill="rgb(0,0,0)" filter="url(#b5)"/>
<path d="M828.0,528.0 C836.5,529.2 851.0,531.7 860.0,537.0 C869.0,542.3 877.2,552.0 882.0,560.0 C886.8,568.0 888.7,577.3 889.0,585.0 C889.3,592.7 887.3,600.0 884.0,606.0 C880.7,612.0 869.8,615.7 869.0,621.0 C868.2,626.3 877.2,632.3 879.0,638.0 C880.8,643.7 882.2,650.0 880.0,655.0 C877.8,660.0 868.7,663.8 866.0,668.0 C863.3,672.2 862.5,675.3 864.0,680.0 C865.5,684.7 872.3,689.3 875.0,696.0 C877.7,702.7 880.2,711.8 880.0,720.0 C879.8,728.2 877.8,738.2 874.0,745.0 C870.2,751.8 864.7,757.2 857.0,761.0 C849.3,764.8 837.5,767.0 828.0,767.5 C818.5,768.0 809.3,765.5 800.0,764.0 C790.7,762.5 781.2,759.0 772.0,758.5 C762.8,758.0 754.5,759.9 745.0,761.0 C735.5,762.1 724.2,765.5 715.0,765.0 C705.8,764.5 697.3,762.0 690.0,758.0 C682.7,754.0 675.6,747.3 671.0,741.0 C666.4,734.7 663.0,726.5 662.5,720.0 C662.0,713.5 664.8,706.8 668.0,702.0 C671.2,697.2 678.7,696.0 682.0,691.0 C685.3,686.0 687.5,678.5 688.0,672.0 C688.5,665.5 687.5,658.7 685.0,652.0 C682.5,645.3 675.9,639.0 673.0,632.0 C670.1,625.0 667.2,617.3 667.5,610.0 C667.8,602.7 670.4,594.0 675.0,588.0 C679.6,582.0 685.8,577.1 695.0,574.0 C704.2,570.9 719.8,570.4 730.0,569.5 C740.2,568.6 749.3,569.6 756.0,568.5 C762.7,567.4 766.3,566.4 770.0,563.0 C773.7,559.6 774.5,552.5 778.0,548.0 C781.5,543.5 785.8,539.1 791.0,536.0 C796.2,532.9 802.8,530.8 809.0,529.5 C815.2,528.2 819.5,526.8 828.0,528.0 Z" fill="rgb(122,122,122)" filter="url(#b4)"/>
<path d="M625,640 L664,652 L681,660 Q684,672 681,684 L666,692 L625,706 Z" fill="rgb(0,0,0)" filter="url(#b6)"/>
<path d="M676,651 L752,651" fill="none" stroke="rgb(76,76,76)" stroke-width="9" stroke-linecap="butt" stroke-linejoin="round" filter="url(#b4)"/>
<path d="M676,689 L760,689" fill="none" stroke="rgb(76,76,76)" stroke-width="8" stroke-linecap="butt" stroke-linejoin="round" filter="url(#b4)"/>
<path d="M915,658 L861,679 L915,700 Z" fill="rgb(0,0,0)" filter="url(#b4)"/>
<path d="M736,688 L806,684" fill="none" stroke="rgb(64,64,64)" stroke-width="8" stroke-linecap="round" stroke-linejoin="round" filter="url(#b4)"/>
<path d="M749,653 C770,657 784,670 797,685 C780,689 764,687 752,684 C749,674 747,662 749,653 Z" fill="rgb(64,64,64)" stroke="rgb(64,64,64)" stroke-width="8" stroke-linejoin="round" filter="url(#b3_5)"/>
<path d="M751,657 C767,661 780,672 791,684 C778,686 764,684 755,681 C752,672 750,664 751,657 Z" fill="rgb(0,0,0)" stroke="rgb(0,0,0)" stroke-width="1" stroke-linejoin="round" filter="url(#b3)"/>
<ellipse cx="716.5" cy="650.8" rx="15" ry="11" fill="rgb(66,66,66)" filter="url(#b3_5)"/>
<ellipse cx="716.5" cy="650.8" rx="10.5" ry="6.5" fill="rgb(5,5,5)" filter="url(#b2_5)"/>
<ellipse cx="715.6" cy="688.5" rx="17" ry="16" fill="rgb(69,69,69)" filter="url(#b3_5)"/>
<ellipse cx="715.6" cy="688.5" rx="12.5" ry="12" fill="rgb(0,0,0)" filter="url(#b2_5)"/>
<ellipse cx="719" cy="615" rx="37" ry="19.5" fill="rgb(181,181,181)" filter="url(#b6)"/>
<ellipse cx="718" cy="615.5" rx="18" ry="8.5" fill="rgb(227,227,227)" filter="url(#b5)"/>
<ellipse cx="772" cy="722" rx="34" ry="16" fill="rgb(173,173,173)" filter="url(#b7)"/>
<path d="M680,712 C680,702 700,699 719,699 C738,699 758,702 758,712 C758,734 740,749 719,749 C698,749 680,734 680,712 Z" fill="rgb(199,199,199)" filter="url(#b5)"/>
<path d="M690,713 C690,709 702,708 719,708 C736,708 748,709 748,714 C748,730 735,741 719,741 C703,741 690,730 690,713 Z" fill="rgb(255,255,255)" filter="url(#b3)"/>
<ellipse cx="828.2" cy="581.3" rx="42" ry="38" fill="rgb(199,199,199)" filter="url(#b3_5)"/>
<ellipse cx="828.2" cy="581.3" rx="37" ry="32.8" fill="rgb(255,255,255)" filter="url(#b2)"/>
<ellipse cx="826" cy="622" rx="42" ry="5.5" fill="rgb(69,69,69)" filter="url(#b3)"/>
<path d="M846,620 Q872,616 890,600 L896,612 Q876,627 846,625.5 Z" fill="rgb(64,64,64)" filter="url(#b3)"/>
<ellipse cx="829.4" cy="622.5" rx="19" ry="3.4" fill="rgb(0,0,0)" filter="url(#b2)"/>
<rect x="783" y="630.5" width="91" height="36.5" rx="18" ry="18" fill="rgb(199,199,199)" filter="url(#b3_5)"/>
<path d="M801,635.5 L856,635.5 C866,635.5 869.5,642 869.5,649 C869.5,657 864,662.5 856,662.5 C848,662.5 846,660 829,660 C812,660 810,662.5 801,662.5 C793,662.5 788,657 788,649 C788,642 792,635.5 801,635.5 Z" fill="rgb(255,255,255)" filter="url(#b2)"/>
<path d="M791,712 C791,700 796,693 806,693 C816,696 842,696 851,693 C861,693 865,700 865,712 C865,733 850,745.5 828,745.5 C806,745.5 791,733 791,712 Z" fill="rgb(199,199,199)" filter="url(#b3_5)"/>
<path d="M795.5,712 C795.5,702 799,697 807,697 C817,700 841,700 850,697 C857,697 861,702 861,712 C861,730 848,741.5 828,741.5 C808,741.5 795.5,730 795.5,712 Z" fill="rgb(255,255,255)" filter="url(#b2)"/>
<ellipse cx="829" cy="676.5" rx="24.5" ry="16.5" fill="rgb(69,69,69)" filter="url(#b2_5)"/>
<ellipse cx="829" cy="676.3" rx="20.5" ry="12.8" fill="rgb(0,0,0)" filter="url(#b2)"/>

</g></g>

<!-- colour bars -->
<rect x="155" y="406.7" width="177.5" height="12.3" fill="url(#cb)"/>
<rect x="136.4" y="866.6" width="177.6" height="12" fill="url(#cb)"/>
<rect x="662.9" y="866.6" width="178.7" height="12" fill="url(#cb)"/>

<!-- panel b : upper -->
<g clip-path="url(#cu)">
<g stroke="#231815" stroke-width="3" fill="none"><line x1="604" x2="608" y1="143.8" y2="143.8"/><line x1="604" x2="608" y1="80.2" y2="80.2"/><line x1="604" x2="612.5" y1="112.0" y2="112.0"/><line x1="604" x2="612.5" y1="48.5" y2="48.5"/><line x1="627.2" x2="627.2" y1="175.5" y2="168"/><line x1="699.6" x2="699.6" y1="175.5" y2="168"/><line x1="844.4" x2="844.4" y1="175.5" y2="168"/><line x1="916.8" x2="916.8" y1="175.5" y2="168"/><line x1="663.4" x2="663.4" y1="175.5" y2="171.5"/><line x1="735.8" x2="735.8" y1="175.5" y2="171.5"/><line x1="808.2" x2="808.2" y1="175.5" y2="171.5"/><line x1="880.6" x2="880.6" y1="175.5" y2="171.5"/></g>
<line x1="772.4" x2="772.4" y1="23.7" y2="176" stroke="#a0a0a0" stroke-width="4" stroke-dasharray="8.2,12.4"/>
<path d="M603.0,175.5 L603.5,175.5 L604.0,175.5 L604.5,175.5 L605.0,175.5 L605.5,175.5 L606.0,175.5 L606.5,175.5 L607.0,175.5 L607.5,175.5 L608.0,175.5 L608.5,175.5 L609.0,175.5 L609.5,175.5 L610.0,175.5 L610.5,175.5 L611.0,175.5 L611.5,175.5 L612.0,175.5 L612.5,175.5 L613.0,175.5 L613.5,175.5 L614.0,175.5 L614.5,175.5 L615.0,175.5 L615.5,175.5 L616.0,175.5 L616.5,175.5 L617.0,175.5 L617.5,175.5 L618.0,175.5 L618.5,175.5 L619.0,175.4 L619.5,175.4 L620.0,175.2 L620.5,174.9 L621.0,174.4 L621.5,173.6 L622.0,172.3 L622.5,170.3 L623.0,167.3 L623.5,163.1 L624.0,157.6 L624.5,150.5 L625.0,142.0 L625.5,132.4 L626.0,122.2 L626.5,112.2 L627.0,103.3 L627.5,96.3 L628.0,92.1 L628.5,91.1 L629.0,93.4 L629.5,98.8 L630.0,106.7 L630.5,116.2 L631.0,126.3 L631.5,136.3 L632.0,145.6 L632.5,153.5 L633.0,160.0 L633.5,165.0 L634.0,168.6 L634.5,171.2 L635.0,172.9 L635.5,174.0 L636.0,174.7 L636.5,175.1 L637.0,175.3 L637.5,175.4 L638.0,175.4 L638.5,175.5 L639.0,175.5 L639.5,175.5 L640.0,175.4 L640.5,175.3 L641.0,175.2 L641.5,175.1 L642.0,174.9 L642.5,174.6 L643.0,174.3 L643.5,174.1 L644.0,173.8 L644.5,173.7 L645.0,173.6 L645.5,173.7 L646.0,173.8 L646.5,174.1 L647.0,174.3 L647.5,174.6 L648.0,174.9 L648.5,175.1 L649.0,175.2 L649.5,175.3 L650.0,175.4 L650.5,175.5 L651.0,175.5 L651.5,175.5 L652.0,175.5 L652.5,175.5 L653.0,175.5 L653.5,175.5 L654.0,175.5 L654.5,175.5 L655.0,175.5 L655.5,175.5 L656.0,175.5 L656.5,175.5 L657.0,175.5 L657.5,175.5 L658.0,175.5 L658.5,175.5 L659.0,175.5 L659.5,175.5 L660.0,175.5 L660.5,175.5 L661.0,175.5 L661.5,175.5 L662.0,175.5 L662.5,175.5 L663.0,175.5 L663.5,175.5 L664.0,175.5 L664.5,175.5 L665.0,175.5 L665.5,175.5 L666.0,175.5 L666.5,175.5 L667.0,175.5 L667.5,175.5 L668.0,175.5 L668.5,175.5 L669.0,175.5 L669.5,175.5 L670.0,175.5 L670.5,175.5 L671.0,175.5 L671.5,175.5 L672.0,175.5 L672.5,175.5 L673.0,175.5 L673.5,175.5 L674.0,175.5 L674.5,175.5 L675.0,175.5 L675.5,175.5 L676.0,175.5 L676.5,175.5 L677.0,175.5 L677.5,175.5 L678.0,175.5 L678.5,175.5 L679.0,175.5 L679.5,175.5 L680.0,175.5 L680.5,175.5 L681.0,175.5 L681.5,175.4 L682.0,175.4 L682.5,175.3 L683.0,175.2 L683.5,174.9 L684.0,174.7 L684.5,174.3 L685.0,173.9 L685.5,173.5 L686.0,173.0 L686.5,172.5 L687.0,172.1 L687.5,171.5 L688.0,170.7 L688.5,169.8 L689.0,168.5 L689.5,167.0 L690.0,165.4 L690.5,164.0 L691.0,162.9 L691.5,162.4 L692.0,162.6 L692.5,163.4 L693.0,164.7 L693.5,166.2 L694.0,167.6 L694.5,168.7 L695.0,169.6 L695.5,170.2 L696.0,170.7 L696.5,171.1 L697.0,171.5 L697.5,172.0 L698.0,172.5 L698.5,173.2 L699.0,173.7 L699.5,174.3 L700.0,174.7 L700.5,175.0 L701.0,175.2 L701.5,175.3 L702.0,175.4 L702.5,175.5 L703.0,175.5 L703.5,175.5 L704.0,175.5 L704.5,175.5 L705.0,175.5 L705.5,175.5 L706.0,175.5 L706.5,175.5 L707.0,175.5 L707.5,175.5 L708.0,175.5 L708.5,175.5 L709.0,175.5 L709.5,175.5 L710.0,175.5 L710.5,175.5 L711.0,175.5 L711.5,175.5 L712.0,175.5 L712.5,175.5 L713.0,175.5 L713.5,175.5 L714.0,175.5 L714.5,175.5 L715.0,175.5 L715.5,175.5 L716.0,175.5 L716.5,175.5 L717.0,175.5 L717.5,175.5 L718.0,175.5 L718.5,175.5 L719.0,175.5 L719.5,175.5 L720.0,175.5 L720.5,175.5 L721.0,175.5 L721.5,175.5 L722.0,175.5 L722.5,175.5 L723.0,175.5 L723.5,175.5 L724.0,175.5 L724.5,175.5 L725.0,175.5 L725.5,175.5 L726.0,175.5 L726.5,175.5 L727.0,175.5 L727.5,175.5 L728.0,175.5 L728.5,175.5 L729.0,175.5 L729.5,175.5 L730.0,175.5 L730.5,175.5 L731.0,175.5 L731.5,175.5 L732.0,175.5 L732.5,175.5 L733.0,175.5 L733.5,175.5 L734.0,175.5 L734.5,175.5 L735.0,175.5 L735.5,175.5 L736.0,175.5 L736.5,175.5 L737.0,175.5 L737.5,175.5 L738.0,175.5 L738.5,175.5 L739.0,175.5 L739.5,175.5 L740.0,175.5 L740.5,175.5 L741.0,175.5 L741.5,175.5 L742.0,175.5 L742.5,175.5 L743.0,175.5 L743.5,175.5 L744.0,175.5 L744.5,175.5 L745.0,175.5 L745.5,175.5 L746.0,175.5 L746.5,175.5 L747.0,175.5 L747.5,175.5 L748.0,175.5 L748.5,175.5 L749.0,175.5 L749.5,175.5 L750.0,175.5 L750.5,175.5 L751.0,175.5 L751.5,175.5 L752.0,175.5 L752.5,175.5 L753.0,175.5 L753.5,175.5 L754.0,175.5 L754.5,175.5 L755.0,175.5 L755.5,175.5 L756.0,175.5 L756.5,175.5 L757.0,175.5 L757.5,175.5 L758.0,175.5 L758.5,175.5 L759.0,175.5 L759.5,175.5 L760.0,175.5 L760.5,175.5 L761.0,175.5 L761.5,175.5 L762.0,175.5 L762.5,175.5 L763.0,175.5 L763.5,175.5 L764.0,175.5 L764.5,175.5 L765.0,175.5 L765.5,175.5 L766.0,175.5 L766.5,175.5 L767.0,175.5 L767.5,175.5 L768.0,175.5 L768.5,175.5 L769.0,175.5 L769.5,175.5 L770.0,175.5 L770.5,175.5 L771.0,175.5 L771.5,175.5 L772.0,175.5 L772.5,175.5 L773.0,175.5 L773.5,175.5 L774.0,175.5 L774.5,175.5 L775.0,175.5 L775.5,175.5 L776.0,175.5 L776.5,175.5 L777.0,175.5 L777.5,175.5 L778.0,175.5 L778.5,175.5 L779.0,175.5 L779.5,175.5 L780.0,175.5 L780.5,175.5 L781.0,175.5 L781.5,175.5 L782.0,175.5 L782.5,175.5 L783.0,175.5 L783.5,175.5 L784.0,175.5 L784.5,175.5 L785.0,175.5 L785.5,175.5 L786.0,175.5 L786.5,175.5 L787.0,175.5 L787.5,175.5 L788.0,175.5 L788.5,175.5 L789.0,175.5 L789.5,175.5 L790.0,175.5 L790.5,175.5 L791.0,175.5 L791.5,175.5 L792.0,175.5 L792.5,175.5 L793.0,175.5 L793.5,175.5 L794.0,175.5 L794.5,175.5 L795.0,175.5 L795.5,175.5 L796.0,175.5 L796.5,175.5 L797.0,175.5 L797.5,175.5 L798.0,175.5 L798.5,175.5 L799.0,175.5 L799.5,175.5 L800.0,175.5 L800.5,175.5 L801.0,175.5 L801.5,175.5 L802.0,175.5 L802.5,175.5 L803.0,175.5 L803.5,175.5 L804.0,175.5 L804.5,175.5 L805.0,175.5 L805.5,175.5 L806.0,175.5 L806.5,175.5 L807.0,175.5 L807.5,175.5 L808.0,175.5 L808.5,175.4 L809.0,175.4 L809.5,175.4 L810.0,175.4 L810.5,175.4 L811.0,175.4 L811.5,175.4 L812.0,175.4 L812.5,175.3 L813.0,175.3 L813.5,175.3 L814.0,175.3 L814.5,175.2 L815.0,175.2 L815.5,175.1 L816.0,175.1 L816.5,175.1 L817.0,175.0 L817.5,174.9 L818.0,174.9 L818.5,174.8 L819.0,174.7 L819.5,174.6 L820.0,174.5 L820.5,174.4 L821.0,174.3 L821.5,174.2 L822.0,174.1 L822.5,173.9 L823.0,173.8 L823.5,173.6 L824.0,173.5 L824.5,173.3 L825.0,173.1 L825.5,172.9 L826.0,172.7 L826.5,172.5 L827.0,172.2 L827.5,172.0 L828.0,171.7 L828.5,171.5 L829.0,171.2 L829.5,170.9 L830.0,170.6 L830.5,170.3 L831.0,170.0 L831.5,169.7 L832.0,169.4 L832.5,169.1 L833.0,168.8 L833.5,168.4 L834.0,168.1 L834.5,167.8 L835.0,167.5 L835.5,167.2 L836.0,166.8 L836.5,166.5 L837.0,166.2 L837.5,166.0 L838.0,165.7 L838.5,165.4 L839.0,165.2 L839.5,164.9 L840.0,164.7 L840.5,164.5 L841.0,164.4 L841.5,164.2 L842.0,164.1 L842.5,164.0 L843.0,163.9 L843.5,163.8 L844.0,163.8 L844.5,163.8 L845.0,163.8 L845.5,163.9 L846.0,164.1 L846.5,164.3 L847.0,164.6 L847.5,165.0 L848.0,165.4 L848.5,165.9 L849.0,166.4 L849.5,166.8 L850.0,167.3 L850.5,167.7 L851.0,168.1 L851.5,168.4 L852.0,168.7 L852.5,168.8 L853.0,168.8 L853.5,168.8 L854.0,168.6 L854.5,168.4 L855.0,168.1 L855.5,167.8 L856.0,167.6 L856.5,167.4 L857.0,167.3 L857.5,167.4 L858.0,167.5 L858.5,167.9 L859.0,168.5 L859.5,169.3 L860.0,170.1 L860.5,171.0 L861.0,171.9 L861.5,172.7 L862.0,173.4 L862.5,173.9 L863.0,174.4 L863.5,174.7 L864.0,174.9 L864.5,175.1 L865.0,175.2 L865.5,175.2 L866.0,175.3 L866.5,175.3 L867.0,175.3 L867.5,175.3 L868.0,175.2 L868.5,175.2 L869.0,175.2 L869.5,175.2 L870.0,175.1 L870.5,175.1 L871.0,175.1 L871.5,175.1 L872.0,175.0 L872.5,175.0 L873.0,175.0 L873.5,175.0 L874.0,174.9 L874.5,174.9 L875.0,174.9 L875.5,174.8 L876.0,174.8 L876.5,174.8 L877.0,174.8 L877.5,174.8 L878.0,174.8 L878.5,174.8 L879.0,174.7 L879.5,174.7 L880.0,174.7 L880.5,174.7 L881.0,174.7 L881.5,174.8 L882.0,174.8 L882.5,174.8 L883.0,174.8 L883.5,174.8 L884.0,174.8 L884.5,174.8 L885.0,174.9 L885.5,174.9 L886.0,174.9 L886.5,175.0 L887.0,175.0 L887.5,175.0 L888.0,175.0 L888.5,175.1 L889.0,175.1 L889.5,175.1 L890.0,175.2 L890.5,175.2 L891.0,175.2 L891.5,175.2 L892.0,175.3 L892.5,175.3 L893.0,175.3 L893.5,175.3 L894.0,175.3 L894.5,175.3 L895.0,175.3 L895.5,175.3 L896.0,175.3 L896.5,175.3 L897.0,175.3 L897.5,175.3 L898.0,175.2 L898.5,175.2 L899.0,175.1 L899.5,175.1 L900.0,175.0 L900.5,174.9 L901.0,174.9 L901.5,174.8 L902.0,174.8 L902.5,174.7 L903.0,174.7 L903.5,174.7 L904.0,174.8 L904.5,174.8 L905.0,174.9 L905.5,175.0 L906.0,175.0 L906.5,175.1 L907.0,175.2 L907.5,175.3 L908.0,175.3 L908.5,175.4 L909.0,175.4 L909.5,175.4 L910.0,175.4 L910.5,175.5 L911.0,175.5 L911.5,175.5 L912.0,175.5 L912.5,175.5 L913.0,175.5 L913.5,175.5 L914.0,175.5 L914.5,175.5 L915.0,175.5 L915.5,175.5 L916.0,175.5 L916.5,175.5 L917.0,175.5 L917.5,175.5 L918.0,175.5 L918.5,175.5 L919.0,175.5 L919.5,175.5 L920.0,175.5 L920.5,175.5 L921.0,175.5 L921.5,175.5 L922.0,175.5 L922.5,175.5 L923.0,175.5 L923.5,175.5 L924.0,175.5 L924.5,175.5 L925.0,175.5 L925.5,175.5 L926.0,175.5 L926.5,175.5 L927.0,175.5 L927.5,175.5 L928.0,175.5 L928.5,175.5 L929.0,175.5 L929.5,175.5 L930.0,175.5 L930.5,175.5 L931.0,175.5" fill="none" stroke="#ee7d00" stroke-width="3.8" stroke-linejoin="round"/>
</g>
<rect x="603.1" y="16.2" width="325.7" height="159.6" fill="none" stroke="#231815" stroke-width="3.2"/>
<path d="M603.0,175.5 L603.5,175.5 L604.0,175.5 L604.5,175.5 L605.0,175.5 L605.5,175.5 L606.0,175.5 L606.5,175.5 L607.0,175.5 L607.5,175.5 L608.0,175.5 L608.5,175.5 L609.0,175.5 L609.5,175.5 L610.0,175.5 L610.5,175.5 L611.0,175.5 L611.5,175.5 L612.0,175.5 L612.5,175.5 L613.0,175.5 L613.5,175.5 L614.0,175.5 L614.5,175.5 L615.0,175.5 L615.5,175.5 L616.0,175.5 L616.5,175.5 L617.0,175.5 L617.5,175.5 L618.0,175.5 L618.5,175.5 L619.0,175.4 L619.5,175.4 L620.0,175.2 L620.5,174.9 L621.0,174.4 L621.5,173.6 L622.0,172.3 L622.5,170.3 L623.0,167.3 L623.5,163.1 L624.0,157.6 L624.5,150.5 L625.0,142.0 L625.5,132.4 L626.0,122.2 L626.5,112.2 L627.0,103.3 L627.5,96.3 L628.0,92.1 L628.5,91.1 L629.0,93.4 L629.5,98.8 L630.0,106.7 L630.5,116.2 L631.0,126.3 L631.5,136.3 L632.0,145.6 L632.5,153.5 L633.0,160.0 L633.5,165.0 L634.0,168.6 L634.5,171.2 L635.0,172.9 L635.5,174.0 L636.0,174.7 L636.5,175.1 L637.0,175.3 L637.5,175.4 L638.0,175.4 L638.5,175.5 L639.0,175.5 L639.5,175.5 L640.0,175.4 L640.5,175.3 L641.0,175.2 L641.5,175.1 L642.0,174.9 L642.5,174.6 L643.0,174.3 L643.5,174.1 L644.0,173.8 L644.5,173.7 L645.0,173.6 L645.5,173.7 L646.0,173.8 L646.5,174.1 L647.0,174.3 L647.5,174.6 L648.0,174.9 L648.5,175.1 L649.0,175.2 L649.5,175.3 L650.0,175.4 L650.5,175.5 L651.0,175.5 L651.5,175.5 L652.0,175.5 L652.5,175.5 L653.0,175.5 L653.5,175.5 L654.0,175.5 L654.5,175.5 L655.0,175.5 L655.5,175.5 L656.0,175.5 L656.5,175.5 L657.0,175.5 L657.5,175.5 L658.0,175.5 L658.5,175.5 L659.0,175.5 L659.5,175.5 L660.0,175.5 L660.5,175.5 L661.0,175.5 L661.5,175.5 L662.0,175.5 L662.5,175.5 L663.0,175.5 L663.5,175.5 L664.0,175.5 L664.5,175.5 L665.0,175.5 L665.5,175.5 L666.0,175.5 L666.5,175.5 L667.0,175.5 L667.5,175.5 L668.0,175.5 L668.5,175.5 L669.0,175.5 L669.5,175.5 L670.0,175.5 L670.5,175.5 L671.0,175.5 L671.5,175.5 L672.0,175.5 L672.5,175.5 L673.0,175.5 L673.5,175.5 L674.0,175.5 L674.5,175.5 L675.0,175.5 L675.5,175.5 L676.0,175.5 L676.5,175.5 L677.0,175.5 L677.5,175.5 L678.0,175.5 L678.5,175.5 L679.0,175.5 L679.5,175.5 L680.0,175.5 L680.5,175.5 L681.0,175.5 L681.5,175.4 L682.0,175.4 L682.5,175.3 L683.0,175.2 L683.5,174.9 L684.0,174.7 L684.5,174.3 L685.0,173.9 L685.5,173.5 L686.0,173.0 L686.5,172.5 L687.0,172.1 L687.5,171.5 L688.0,170.7 L688.5,169.8 L689.0,168.5 L689.5,167.0 L690.0,165.4 L690.5,164.0 L691.0,162.9 L691.5,162.4 L692.0,162.6 L692.5,163.4 L693.0,164.7 L693.5,166.2 L694.0,167.6 L694.5,168.7 L695.0,169.6 L695.5,170.2 L696.0,170.7 L696.5,171.1 L697.0,171.5 L697.5,172.0 L698.0,172.5 L698.5,173.2 L699.0,173.7 L699.5,174.3 L700.0,174.7 L700.5,175.0 L701.0,175.2 L701.5,175.3 L702.0,175.4 L702.5,175.5 L703.0,175.5 L703.5,175.5 L704.0,175.5 L704.5,175.5 L705.0,175.5 L705.5,175.5 L706.0,175.5 L706.5,175.5 L707.0,175.5 L707.5,175.5 L708.0,175.5 L708.5,175.5 L709.0,175.5 L709.5,175.5 L710.0,175.5 L710.5,175.5 L711.0,175.5 L711.5,175.5 L712.0,175.5 L712.5,175.5 L713.0,175.5 L713.5,175.5 L714.0,175.5 L714.5,175.5 L715.0,175.5 L715.5,175.5 L716.0,175.5 L716.5,175.5 L717.0,175.5 L717.5,175.5 L718.0,175.5 L718.5,175.5 L719.0,175.5 L719.5,175.5 L720.0,175.5 L720.5,175.5 L721.0,175.5 L721.5,175.5 L722.0,175.5 L722.5,175.5 L723.0,175.5 L723.5,175.5 L724.0,175.5 L724.5,175.5 L725.0,175.5 L725.5,175.5 L726.0,175.5 L726.5,175.5 L727.0,175.5 L727.5,175.5 L728.0,175.5 L728.5,175.5 L729.0,175.5 L729.5,175.5 L730.0,175.5 L730.5,175.5 L731.0,175.5 L731.5,175.5 L732.0,175.5 L732.5,175.5 L733.0,175.5 L733.5,175.5 L734.0,175.5 L734.5,175.5 L735.0,175.5 L735.5,175.5 L736.0,175.5 L736.5,175.5 L737.0,175.5 L737.5,175.5 L738.0,175.5 L738.5,175.5 L739.0,175.5 L739.5,175.5 L740.0,175.5 L740.5,175.5 L741.0,175.5 L741.5,175.5 L742.0,175.5 L742.5,175.5 L743.0,175.5 L743.5,175.5 L744.0,175.5 L744.5,175.5 L745.0,175.5 L745.5,175.5 L746.0,175.5 L746.5,175.5 L747.0,175.5 L747.5,175.5 L748.0,175.5 L748.5,175.5 L749.0,175.5 L749.5,175.5 L750.0,175.5 L750.5,175.5 L751.0,175.5 L751.5,175.5 L752.0,175.5 L752.5,175.5 L753.0,175.5 L753.5,175.5 L754.0,175.5 L754.5,175.5 L755.0,175.5 L755.5,175.5 L756.0,175.5 L756.5,175.5 L757.0,175.5 L757.5,175.5 L758.0,175.5 L758.5,175.5 L759.0,175.5 L759.5,175.5 L760.0,175.5 L760.5,175.5 L761.0,175.5 L761.5,175.5 L762.0,175.5 L762.5,175.5 L763.0,175.5 L763.5,175.5 L764.0,175.5 L764.5,175.5 L765.0,175.5 L765.5,175.5 L766.0,175.5 L766.5,175.5 L767.0,175.5 L767.5,175.5 L768.0,175.5 L768.5,175.5 L769.0,175.5 L769.5,175.5 L770.0,175.5 L770.5,175.5 L771.0,175.5 L771.5,175.5 L772.0,175.5 L772.5,175.5 L773.0,175.5 L773.5,175.5 L774.0,175.5 L774.5,175.5 L775.0,175.5 L775.5,175.5 L776.0,175.5 L776.5,175.5 L777.0,175.5 L777.5,175.5 L778.0,175.5 L778.5,175.5 L779.0,175.5 L779.5,175.5 L780.0,175.5 L780.5,175.5 L781.0,175.5 L781.5,175.5 L782.0,175.5 L782.5,175.5 L783.0,175.5 L783.5,175.5 L784.0,175.5 L784.5,175.5 L785.0,175.5 L785.5,175.5 L786.0,175.5 L786.5,175.5 L787.0,175.5 L787.5,175.5 L788.0,175.5 L788.5,175.5 L789.0,175.5 L789.5,175.5 L790.0,175.5 L790.5,175.5 L791.0,175.5 L791.5,175.5 L792.0,175.5 L792.5,175.5 L793.0,175.5 L793.5,175.5 L794.0,175.5 L794.5,175.5 L795.0,175.5 L795.5,175.5 L796.0,175.5 L796.5,175.5 L797.0,175.5 L797.5,175.5 L798.0,175.5 L798.5,175.5 L799.0,175.5 L799.5,175.5 L800.0,175.5 L800.5,175.5 L801.0,175.5 L801.5,175.5 L802.0,175.5 L802.5,175.5 L803.0,175.5 L803.5,175.5 L804.0,175.5 L804.5,175.5 L805.0,175.5 L805.5,175.5 L806.0,175.5 L806.5,175.5 L807.0,175.5 L807.5,175.5 L808.0,175.5 L808.5,175.4 L809.0,175.4 L809.5,175.4 L810.0,175.4 L810.5,175.4 L811.0,175.4 L811.5,175.4 L812.0,175.4 L812.5,175.3 L813.0,175.3 L813.5,175.3 L814.0,175.3 L814.5,175.2 L815.0,175.2 L815.5,175.1 L816.0,175.1 L816.5,175.1 L817.0,175.0 L817.5,174.9 L818.0,174.9 L818.5,174.8 L819.0,174.7 L819.5,174.6 L820.0,174.5 L820.5,174.4 L821.0,174.3 L821.5,174.2 L822.0,174.1 L822.5,173.9 L823.0,173.8 L823.5,173.6 L824.0,173.5 L824.5,173.3 L825.0,173.1 L825.5,172.9 L826.0,172.7 L826.5,172.5 L827.0,172.2 L827.5,172.0 L828.0,171.7 L828.5,171.5 L829.0,171.2 L829.5,170.9 L830.0,170.6 L830.5,170.3 L831.0,170.0 L831.5,169.7 L832.0,169.4 L832.5,169.1 L833.0,168.8 L833.5,168.4 L834.0,168.1 L834.5,167.8 L835.0,167.5 L835.5,167.2 L836.0,166.8 L836.5,166.5 L837.0,166.2 L837.5,166.0 L838.0,165.7 L838.5,165.4 L839.0,165.2 L839.5,164.9 L840.0,164.7 L840.5,164.5 L841.0,164.4 L841.5,164.2 L842.0,164.1 L842.5,164.0 L843.0,163.9 L843.5,163.8 L844.0,163.8 L844.5,163.8 L845.0,163.8 L845.5,163.9 L846.0,164.1 L846.5,164.3 L847.0,164.6 L847.5,165.0 L848.0,165.4 L848.5,165.9 L849.0,166.4 L849.5,166.8 L850.0,167.3 L850.5,167.7 L851.0,168.1 L851.5,168.4 L852.0,168.7 L852.5,168.8 L853.0,168.8 L853.5,168.8 L854.0,168.6 L854.5,168.4 L855.0,168.1 L855.5,167.8 L856.0,167.6 L856.5,167.4 L857.0,167.3 L857.5,167.4 L858.0,167.5 L858.5,167.9 L859.0,168.5 L859.5,169.3 L860.0,170.1 L860.5,171.0 L861.0,171.9 L861.5,172.7 L862.0,173.4 L862.5,173.9 L863.0,174.4 L863.5,174.7 L864.0,174.9 L864.5,175.1 L865.0,175.2 L865.5,175.2 L866.0,175.3 L866.5,175.3 L867.0,175.3 L867.5,175.3 L868.0,175.2 L868.5,175.2 L869.0,175.2 L869.5,175.2 L870.0,175.1 L870.5,175.1 L871.0,175.1 L871.5,175.1 L872.0,175.0 L872.5,175.0 L873.0,175.0 L873.5,175.0 L874.0,174.9 L874.5,174.9 L875.0,174.9 L875.5,174.8 L876.0,174.8 L876.5,174.8 L877.0,174.8 L877.5,174.8 L878.0,174.8 L878.5,174.8 L879.0,174.7 L879.5,174.7 L880.0,174.7 L880.5,174.7 L881.0,174.7 L881.5,174.8 L882.0,174.8 L882.5,174.8 L883.0,174.8 L883.5,174.8 L884.0,174.8 L884.5,174.8 L885.0,174.9 L885.5,174.9 L886.0,174.9 L886.5,175.0 L887.0,175.0 L887.5,175.0 L888.0,175.0 L888.5,175.1 L889.0,175.1 L889.5,175.1 L890.0,175.2 L890.5,175.2 L891.0,175.2 L891.5,175.2 L892.0,175.3 L892.5,175.3 L893.0,175.3 L893.5,175.3 L894.0,175.3 L894.5,175.3 L895.0,175.3 L895.5,175.3 L896.0,175.3 L896.5,175.3 L897.0,175.3 L897.5,175.3 L898.0,175.2 L898.5,175.2 L899.0,175.1 L899.5,175.1 L900.0,175.0 L900.5,174.9 L901.0,174.9 L901.5,174.8 L902.0,174.8 L902.5,174.7 L903.0,174.7 L903.5,174.7 L904.0,174.8 L904.5,174.8 L905.0,174.9 L905.5,175.0 L906.0,175.0 L906.5,175.1 L907.0,175.2 L907.5,175.3 L908.0,175.3 L908.5,175.4 L909.0,175.4 L909.5,175.4 L910.0,175.4 L910.5,175.5 L911.0,175.5 L911.5,175.5 L912.0,175.5 L912.5,175.5 L913.0,175.5 L913.5,175.5 L914.0,175.5 L914.5,175.5 L915.0,175.5 L915.5,175.5 L916.0,175.5 L916.5,175.5 L917.0,175.5 L917.5,175.5 L918.0,175.5 L918.5,175.5 L919.0,175.5 L919.5,175.5 L920.0,175.5 L920.5,175.5 L921.0,175.5 L921.5,175.5 L922.0,175.5 L922.5,175.5 L923.0,175.5 L923.5,175.5 L924.0,175.5 L924.5,175.5 L925.0,175.5 L925.5,175.5 L926.0,175.5 L926.5,175.5 L927.0,175.5 L927.5,175.5 L928.0,175.5 L928.5,175.5 L929.0,175.5 L929.5,175.5 L930.0,175.5 L930.5,175.5 L931.0,175.5" fill="none" stroke="#ee7d00" stroke-width="3.8" stroke-linejoin="round" clip-path="url(#cu)"/>
<line x1="805.5" x2="843.9" y1="47" y2="47" stroke="#ee7d00" stroke-width="4.3"/>

<!-- panel b : lower -->
<g clip-path="url(#cl)">
<g stroke="#231815" stroke-width="2.8" fill="none"><line x1="605" x2="609" y1="334.7" y2="334.7"/><line x1="605" x2="609" y1="289.9" y2="289.9"/><line x1="605" x2="609" y1="245.1" y2="245.1"/><line x1="605" x2="613.5" y1="312.3" y2="312.3"/><line x1="605" x2="613.5" y1="267.5" y2="267.5"/><line x1="605" x2="613.5" y1="222.7" y2="222.7"/><line x1="629.7" x2="629.7" y1="357" y2="349.5"/><line x1="702.6" x2="702.6" y1="357" y2="349.5"/><line x1="848.4" x2="848.4" y1="357" y2="349.5"/><line x1="921.3" x2="921.3" y1="357" y2="349.5"/><line x1="666.1" x2="666.1" y1="357" y2="353"/><line x1="739.0" x2="739.0" y1="357" y2="353"/><line x1="812.0" x2="812.0" y1="357" y2="353"/><line x1="884.9" x2="884.9" y1="357" y2="353"/></g>
<line x1="774.9" x2="774.9" y1="193.1" y2="357" stroke="#888" stroke-width="4" stroke-dasharray="9.3,12.8"/>
</g>
<rect x="604.6" y="199.6" width="328.2" height="157" fill="none" stroke="#231815" stroke-width="2.6"/>
<g clip-path="url(#cl)" fill="none" stroke-linejoin="round">
<path d="M604.0,357.1 L604.5,357.1 L605.0,357.1 L605.5,357.1 L606.0,357.1 L606.5,357.1 L607.0,357.1 L607.5,357.1 L608.0,357.1 L608.5,357.1 L609.0,357.1 L609.5,357.1 L610.0,357.1 L610.5,357.1 L611.0,357.1 L611.5,357.1 L612.0,357.1 L612.5,357.1 L613.0,357.1 L613.5,357.1 L614.0,357.1 L614.5,357.1 L615.0,357.1 L615.5,357.1 L616.0,357.1 L616.5,357.1 L617.0,357.1 L617.5,357.1 L618.0,357.1 L618.5,357.1 L619.0,357.1 L619.5,357.1 L620.0,357.0 L620.5,357.0 L621.0,356.9 L621.5,356.7 L622.0,356.5 L622.5,356.0 L623.0,355.4 L623.5,354.4 L624.0,352.9 L624.5,350.8 L625.0,347.8 L625.5,343.9 L626.0,338.9 L626.5,332.6 L627.0,325.0 L627.5,316.2 L628.0,306.5 L628.5,296.1 L629.0,285.6 L629.5,275.7 L630.0,266.9 L630.5,259.8 L631.0,255.1 L631.5,253.1 L632.0,254.0 L632.5,257.6 L633.0,263.7 L633.5,271.9 L634.0,281.5 L634.5,291.8 L635.0,302.2 L635.5,312.2 L636.0,321.4 L636.5,329.5 L637.0,336.2 L637.5,341.8 L638.0,346.1 L638.5,349.4 L639.0,351.8 L639.5,353.4 L640.0,354.6 L640.5,355.3 L641.0,355.8 L641.5,356.1 L642.0,356.3 L642.5,356.3 L643.0,356.4 L643.5,356.4 L644.0,356.3 L644.5,356.3 L645.0,356.3 L645.5,356.2 L646.0,356.2 L646.5,356.1 L647.0,356.1 L647.5,356.1 L648.0,356.0 L648.5,356.0 L649.0,355.9 L649.5,355.9 L650.0,355.8 L650.5,355.8 L651.0,355.7 L651.5,355.7 L652.0,355.7 L652.5,355.6 L653.0,355.6 L653.5,355.6 L654.0,355.5 L654.5,355.5 L655.0,355.5 L655.5,355.4 L656.0,355.4 L656.5,355.4 L657.0,355.4 L657.5,355.3 L658.0,355.3 L658.5,355.3 L659.0,355.3 L659.5,355.3 L660.0,355.3 L660.5,355.3 L661.0,355.3 L661.5,355.3 L662.0,355.3 L662.5,355.3 L663.0,355.4 L663.5,355.4 L664.0,355.4 L664.5,355.4 L665.0,355.5 L665.5,355.5 L666.0,355.5 L666.5,355.6 L667.0,355.6 L667.5,355.6 L668.0,355.7 L668.5,355.7 L669.0,355.7 L669.5,355.8 L670.0,355.8 L670.5,355.9 L671.0,355.9 L671.5,356.0 L672.0,356.0 L672.5,356.1 L673.0,356.1 L673.5,356.1 L674.0,356.2 L674.5,356.2 L675.0,356.3 L675.5,356.3 L676.0,356.4 L676.5,356.4 L677.0,356.4 L677.5,356.5 L678.0,356.5 L678.5,356.6 L679.0,356.6 L679.5,356.6 L680.0,356.7 L680.5,356.7 L681.0,356.7 L681.5,356.7 L682.0,356.8 L682.5,356.8 L683.0,356.8 L683.5,356.8 L684.0,356.9 L684.5,356.9 L685.0,356.9 L685.5,356.9 L686.0,356.9 L686.5,356.9 L687.0,357.0 L687.5,357.0 L688.0,357.0 L688.5,356.9 L689.0,356.9 L689.5,356.8 L690.0,356.6 L690.5,356.2 L691.0,355.7 L691.5,355.0 L692.0,354.0 L692.5,352.9 L693.0,351.7 L693.5,350.5 L694.0,349.6 L694.5,349.1 L695.0,349.1 L695.5,349.5 L696.0,350.3 L696.5,351.5 L697.0,352.7 L697.5,353.8 L698.0,354.8 L698.5,355.6 L699.0,356.2 L699.5,356.6 L700.0,356.8 L700.5,357.0 L701.0,357.0 L701.5,357.1 L702.0,357.1 L702.5,357.1 L703.0,357.1 L703.5,357.1 L704.0,357.1 L704.5,357.1 L705.0,357.1 L705.5,357.1 L706.0,357.1 L706.5,357.1 L707.0,357.1 L707.5,357.1 L708.0,357.1 L708.5,357.1 L709.0,357.1 L709.5,357.1 L710.0,357.1 L710.5,357.1 L711.0,357.1 L711.5,357.1 L712.0,357.1 L712.5,357.1 L713.0,357.1 L713.5,357.1 L714.0,357.1 L714.5,357.1 L715.0,357.1 L715.5,357.1 L716.0,357.1 L716.5,357.1 L717.0,357.1 L717.5,357.1 L718.0,357.1 L718.5,357.1 L719.0,357.1 L719.5,357.1 L720.0,357.1 L720.5,357.1 L721.0,357.1 L721.5,357.1 L722.0,357.1 L722.5,357.1 L723.0,357.1 L723.5,357.1 L724.0,357.1 L724.5,357.1 L725.0,357.1 L725.5,357.1 L726.0,357.1 L726.5,357.1 L727.0,357.1 L727.5,357.1 L728.0,357.1 L728.5,357.1 L729.0,357.1 L729.5,357.1 L730.0,357.1 L730.5,357.1 L731.0,357.1 L731.5,357.1 L732.0,357.1 L732.5,357.1 L733.0,357.1 L733.5,357.1 L734.0,357.1 L734.5,357.1 L735.0,357.1 L735.5,357.1 L736.0,357.1 L736.5,357.1 L737.0,357.1 L737.5,357.1 L738.0,357.1 L738.5,357.1 L739.0,357.1 L739.5,357.1 L740.0,357.1 L740.5,357.1 L741.0,357.1 L741.5,357.1 L742.0,357.1 L742.5,357.1 L743.0,357.1 L743.5,357.1 L744.0,357.1 L744.5,357.1 L745.0,357.1 L745.5,357.1 L746.0,357.1 L746.5,357.1 L747.0,357.1 L747.5,357.1 L748.0,357.1 L748.5,357.1 L749.0,357.1 L749.5,357.1 L750.0,357.1 L750.5,357.1 L751.0,357.1 L751.5,357.1 L752.0,357.1 L752.5,357.1 L753.0,357.1 L753.5,357.1 L754.0,357.1 L754.5,357.1 L755.0,357.1 L755.5,357.1 L756.0,357.1 L756.5,357.1 L757.0,357.1 L757.5,357.1 L758.0,357.1 L758.5,357.1 L759.0,357.1 L759.5,357.1 L760.0,357.1 L760.5,357.1 L761.0,357.1 L761.5,357.1 L762.0,357.1 L762.5,357.1 L763.0,357.1 L763.5,357.1 L764.0,357.1 L764.5,357.1 L765.0,357.1 L765.5,357.1 L766.0,357.1 L766.5,357.1 L767.0,357.1 L767.5,357.1 L768.0,357.1 L768.5,357.1 L769.0,357.1 L769.5,357.1 L770.0,357.1 L770.5,357.1 L771.0,357.1 L771.5,357.1 L772.0,357.1 L772.5,357.1 L773.0,357.1 L773.5,357.1 L774.0,357.1 L774.5,357.1 L775.0,357.1 L775.5,357.1 L776.0,357.1 L776.5,357.1 L777.0,357.1 L777.5,357.1 L778.0,357.1 L778.5,357.1 L779.0,357.1 L779.5,357.1 L780.0,357.1 L780.5,357.1 L781.0,357.1 L781.5,357.1 L782.0,357.1 L782.5,357.1 L783.0,357.1 L783.5,357.1 L784.0,357.1 L784.5,357.1 L785.0,357.1 L785.5,357.1 L786.0,357.1 L786.5,357.1 L787.0,357.1 L787.5,357.1 L788.0,357.1 L788.5,357.1 L789.0,357.1 L789.5,357.1 L790.0,357.1 L790.5,357.1 L791.0,357.1 L791.5,357.1 L792.0,357.1 L792.5,357.1 L793.0,357.1 L793.5,357.1 L794.0,357.1 L794.5,357.1 L795.0,357.1 L795.5,357.1 L796.0,357.1 L796.5,357.1 L797.0,357.1 L797.5,357.1 L798.0,357.1 L798.5,357.1 L799.0,357.1 L799.5,357.1 L800.0,357.1 L800.5,357.1 L801.0,357.1 L801.5,357.1 L802.0,357.1 L802.5,357.0 L803.0,357.0 L803.5,357.0 L804.0,357.0 L804.5,357.0 L805.0,357.0 L805.5,357.0 L806.0,357.0 L806.5,357.0 L807.0,357.0 L807.5,357.0 L808.0,357.0 L808.5,357.0 L809.0,357.0 L809.5,356.9 L810.0,356.9 L810.5,356.9 L811.0,356.9 L811.5,356.9 L812.0,356.9 L812.5,356.9 L813.0,356.9 L813.5,356.8 L814.0,356.8 L814.5,356.8 L815.0,356.8 L815.5,356.8 L816.0,356.7 L816.5,356.7 L817.0,356.7 L817.5,356.7 L818.0,356.6 L818.5,356.6 L819.0,356.6 L819.5,356.5 L820.0,356.5 L820.5,356.5 L821.0,356.4 L821.5,356.4 L822.0,356.4 L822.5,356.3 L823.0,356.3 L823.5,356.2 L824.0,356.2 L824.5,356.1 L825.0,356.1 L825.5,356.0 L826.0,356.0 L826.5,355.9 L827.0,355.9 L827.5,355.8 L828.0,355.8 L828.5,355.7 L829.0,355.6 L829.5,355.6 L830.0,355.5 L830.5,355.4 L831.0,355.4 L831.5,355.3 L832.0,355.2 L832.5,355.1 L833.0,355.1 L833.5,355.0 L834.0,354.9 L834.5,354.8 L835.0,354.8 L835.5,354.7 L836.0,354.6 L836.5,354.5 L837.0,354.4 L837.5,354.4 L838.0,354.3 L838.5,354.2 L839.0,354.1 L839.5,354.0 L840.0,353.9 L840.5,353.9 L841.0,353.8 L841.5,353.7 L842.0,353.6 L842.5,353.5 L843.0,353.5 L843.5,353.4 L844.0,353.3 L844.5,353.2 L845.0,353.2 L845.5,353.1 L846.0,353.0 L846.5,352.9 L847.0,352.9 L847.5,352.8 L848.0,352.7 L848.5,352.7 L849.0,352.6 L849.5,352.6 L850.0,352.5 L850.5,352.5 L851.0,352.4 L851.5,352.3 L852.0,352.2 L852.5,352.1 L853.0,352.0 L853.5,351.8 L854.0,351.5 L854.5,351.2 L855.0,350.7 L855.5,350.2 L856.0,349.5 L856.5,348.6 L857.0,347.7 L857.5,346.5 L858.0,345.3 L858.5,344.1 L859.0,342.8 L859.5,341.6 L860.0,340.6 L860.5,339.7 L861.0,339.1 L861.5,338.8 L862.0,338.9 L862.5,339.2 L863.0,339.9 L863.5,340.8 L864.0,341.9 L864.5,343.1 L865.0,344.3 L865.5,345.5 L866.0,346.6 L866.5,347.6 L867.0,348.4 L867.5,349.0 L868.0,349.5 L868.5,349.9 L869.0,350.2 L869.5,350.4 L870.0,350.5 L870.5,350.7 L871.0,350.9 L871.5,351.2 L872.0,351.4 L872.5,351.7 L873.0,352.0 L873.5,352.3 L874.0,352.7 L874.5,353.0 L875.0,353.4 L875.5,353.8 L876.0,354.2 L876.5,354.5 L877.0,354.8 L877.5,355.2 L878.0,355.4 L878.5,355.7 L879.0,355.9 L879.5,356.1 L880.0,356.3 L880.5,356.5 L881.0,356.6 L881.5,356.7 L882.0,356.8 L882.5,356.8 L883.0,356.9 L883.5,356.9 L884.0,357.0 L884.5,357.0 L885.0,357.0 L885.5,357.0 L886.0,357.1 L886.5,357.1 L887.0,357.1 L887.5,357.1 L888.0,357.1 L888.5,357.1 L889.0,357.1 L889.5,357.1 L890.0,357.1 L890.5,357.1 L891.0,357.1 L891.5,357.1 L892.0,357.1 L892.5,357.1 L893.0,357.1 L893.5,357.1 L894.0,357.1 L894.5,357.1 L895.0,357.1 L895.5,357.1 L896.0,357.1 L896.5,357.1 L897.0,357.1 L897.5,357.1 L898.0,357.1 L898.5,357.1 L899.0,357.1 L899.5,357.1 L900.0,357.1 L900.5,357.1 L901.0,357.1 L901.5,357.0 L902.0,357.0 L902.5,356.9 L903.0,356.8 L903.5,356.7 L904.0,356.5 L904.5,356.3 L905.0,356.0 L905.5,355.7 L906.0,355.5 L906.5,355.2 L907.0,355.0 L907.5,354.9 L908.0,354.9 L908.5,354.9 L909.0,355.0 L909.5,355.2 L910.0,355.5 L910.5,355.7 L911.0,356.0 L911.5,356.3 L912.0,356.5 L912.5,356.7 L913.0,356.8 L913.5,356.9 L914.0,357.0 L914.5,357.0 L915.0,357.1 L915.5,357.1 L916.0,357.1 L916.5,357.1 L917.0,357.1 L917.5,357.1 L918.0,357.1 L918.5,357.1 L919.0,357.1 L919.5,357.1 L920.0,357.1 L920.5,357.1 L921.0,357.1 L921.5,357.1 L922.0,357.1 L922.5,357.1 L923.0,357.1 L923.5,357.1 L924.0,357.1 L924.5,357.1 L925.0,357.1 L925.5,357.1 L926.0,357.1 L926.5,357.1 L927.0,357.1 L927.5,357.1 L928.0,357.1 L928.5,357.1 L929.0,357.1 L929.5,357.1 L930.0,357.1 L930.5,357.1 L931.0,357.1 L931.5,357.1 L932.0,357.1 L932.5,357.1 L933.0,357.1" stroke="#2c49a0" stroke-width="4.7" transform="translate(0,0.8)"/>
<path d="M626.0,356.9 L626.5,356.6 L627.0,356.2 L627.5,355.5 L628.0,354.5 L628.5,353.2 L629.0,351.5 L629.5,349.8 L630.0,348.3 L630.5,347.2 L631.0,346.8 L631.5,347.2 L632.0,348.3 L632.5,349.8 L633.0,351.5 L633.5,353.2 L634.0,354.5 L634.5,355.5 L635.0,356.2 L635.5,356.6 L636.0,356.9" stroke="#111" stroke-width="3.6"/>
<path d="M604.0,357.1 L604.5,357.1 L605.0,357.1 L605.5,357.1 L606.0,357.1 L606.5,357.1 L607.0,357.1 L607.5,357.1 L608.0,357.1 L608.5,357.1 L609.0,357.1 L609.5,357.1 L610.0,357.1 L610.5,357.1 L611.0,357.1 L611.5,357.1 L612.0,357.1 L612.5,357.1 L613.0,357.1 L613.5,357.1 L614.0,357.1 L614.5,357.1 L615.0,357.1 L615.5,357.1 L616.0,357.1 L616.5,357.1 L617.0,357.1 L617.5,357.1 L618.0,357.1 L618.5,357.1 L619.0,357.1 L619.5,357.1 L620.0,357.1 L620.5,357.1 L621.0,357.1 L621.5,357.1 L622.0,357.1 L622.5,357.1 L623.0,357.1 L623.5,357.1 L624.0,357.1 L624.5,357.1 L625.0,357.1 L625.5,357.1 L626.0,357.1 L626.5,357.1 L627.0,357.1 L627.5,357.1 L628.0,357.1 L628.5,357.1 L629.0,357.1 L629.5,357.1 L630.0,357.1 L630.5,357.1 L631.0,357.1 L631.5,357.1 L632.0,357.1 L632.5,357.1 L633.0,357.1 L633.5,357.1 L634.0,357.1 L634.5,357.1 L635.0,357.1 L635.5,357.1 L636.0,357.1 L636.5,357.1 L637.0,357.1 L637.5,357.1 L638.0,357.1 L638.5,357.1 L639.0,357.1 L639.5,357.1 L640.0,357.1 L640.5,357.0 L641.0,357.0 L641.5,356.8 L642.0,356.5 L642.5,356.0 L643.0,355.2 L643.5,353.9 L644.0,351.9 L644.5,349.1 L645.0,345.4 L645.5,340.7 L646.0,335.2 L646.5,329.2 L647.0,323.2 L647.5,317.8 L648.0,313.5 L648.5,311.0 L649.0,310.4 L649.5,311.8 L650.0,314.9 L650.5,319.2 L651.0,324.2 L651.5,329.1 L652.0,333.7 L652.5,337.5 L653.0,340.5 L653.5,342.8 L654.0,344.3 L654.5,345.4 L655.0,346.2 L655.5,346.8 L656.0,347.4 L656.5,347.8 L657.0,348.2 L657.5,348.6 L658.0,348.8 L658.5,349.1 L659.0,349.2 L659.5,349.4 L660.0,349.5 L660.5,349.7 L661.0,349.8 L661.5,349.9 L662.0,350.1 L662.5,350.1 L663.0,350.1 L663.5,349.9 L664.0,349.6 L664.5,349.1 L665.0,348.3 L665.5,347.4 L666.0,346.3 L666.5,345.1 L667.0,344.1 L667.5,343.2 L668.0,342.6 L668.5,342.4 L669.0,342.7 L669.5,343.4 L670.0,344.6 L670.5,346.0 L671.0,347.6 L671.5,349.2 L672.0,350.8 L672.5,352.2 L673.0,353.5 L673.5,354.5 L674.0,355.2 L674.5,355.8 L675.0,356.2 L675.5,356.5 L676.0,356.7 L676.5,356.8 L677.0,356.8 L677.5,356.9 L678.0,356.9 L678.5,356.9 L679.0,356.9 L679.5,356.9 L680.0,356.8 L680.5,356.8 L681.0,356.8 L681.5,356.8 L682.0,356.8 L682.5,356.8 L683.0,356.7 L683.5,356.7 L684.0,356.7 L684.5,356.7 L685.0,356.7 L685.5,356.6 L686.0,356.6 L686.5,356.6 L687.0,356.6 L687.5,356.5 L688.0,356.5 L688.5,356.5 L689.0,356.4 L689.5,356.4 L690.0,356.4 L690.5,356.3 L691.0,356.3 L691.5,356.3 L692.0,356.2 L692.5,356.2 L693.0,356.2 L693.5,356.1 L694.0,356.1 L694.5,356.0 L695.0,356.0 L695.5,355.9 L696.0,355.9 L696.5,355.8 L697.0,355.8 L697.5,355.7 L698.0,355.7 L698.5,355.6 L699.0,355.6 L699.5,355.5 L700.0,355.5 L700.5,355.4 L701.0,355.3 L701.5,355.3 L702.0,355.2 L702.5,355.1 L703.0,355.1 L703.5,355.0 L704.0,354.9 L704.5,354.9 L705.0,354.8 L705.5,354.7 L706.0,354.7 L706.5,354.6 L707.0,354.5 L707.5,354.4 L708.0,354.4 L708.5,354.3 L709.0,354.2 L709.5,354.1 L710.0,354.0 L710.5,354.0 L711.0,353.9 L711.5,353.8 L712.0,353.7 L712.5,353.6 L713.0,353.6 L713.5,353.5 L714.0,353.4 L714.5,353.3 L715.0,353.2 L715.5,353.2 L716.0,353.1 L716.5,353.0 L717.0,352.9 L717.5,352.8 L718.0,352.7 L718.5,352.6 L719.0,352.5 L719.5,352.4 L720.0,352.3 L720.5,352.2 L721.0,352.0 L721.5,351.9 L722.0,351.7 L722.5,351.4 L723.0,351.2 L723.5,350.9 L724.0,350.6 L724.5,350.3 L725.0,349.9 L725.5,349.5 L726.0,349.2 L726.5,348.8 L727.0,348.4 L727.5,348.0 L728.0,347.7 L728.5,347.4 L729.0,347.2 L729.5,347.0 L730.0,347.0 L730.5,346.9 L731.0,347.0 L731.5,347.1 L732.0,347.3 L732.5,347.5 L733.0,347.8 L733.5,348.1 L734.0,348.4 L734.5,348.8 L735.0,349.1 L735.5,349.4 L736.0,349.7 L736.5,350.0 L737.0,350.2 L737.5,350.4 L738.0,350.6 L738.5,350.8 L739.0,350.9 L739.5,351.0 L740.0,351.1 L740.5,351.2 L741.0,351.3 L741.5,351.3 L742.0,351.4 L742.5,351.4 L743.0,351.5 L743.5,351.5 L744.0,351.5 L744.5,351.6 L745.0,351.6 L745.5,351.6 L746.0,351.7 L746.5,351.7 L747.0,351.7 L747.5,351.8 L748.0,351.8 L748.5,351.8 L749.0,351.9 L749.5,351.9 L750.0,352.0 L750.5,352.0 L751.0,352.0 L751.5,352.1 L752.0,352.1 L752.5,352.2 L753.0,352.2 L753.5,352.3 L754.0,352.3 L754.5,352.4 L755.0,352.4 L755.5,352.5 L756.0,352.5 L756.5,352.6 L757.0,352.6 L757.5,352.7 L758.0,352.8 L758.5,352.8 L759.0,352.9 L759.5,352.9 L760.0,353.0 L760.5,353.0 L761.0,353.1 L761.5,353.2 L762.0,353.2 L762.5,353.3 L763.0,353.3 L763.5,353.4 L764.0,353.4 L764.5,353.5 L765.0,353.6 L765.5,353.6 L766.0,353.7 L766.5,353.7 L767.0,353.8 L767.5,353.9 L768.0,353.9 L768.5,354.0 L769.0,354.0 L769.5,354.1 L770.0,354.2 L770.5,354.2 L771.0,354.3 L771.5,354.3 L772.0,354.4 L772.5,354.7 L773.0,354.9 L773.5,355.2 L774.0,355.4 L774.5,355.7 L775.0,355.9 L775.5,356.1 L776.0,356.3 L776.5,356.5 L777.0,356.7 L777.5,356.9 L778.0,357.1 L778.5,357.1 L779.0,357.1 L779.5,357.1 L780.0,357.1 L780.5,357.1 L781.0,357.1 L781.5,357.1 L782.0,357.1 L782.5,357.1 L783.0,357.1 L783.5,357.1 L784.0,357.1 L784.5,357.1 L785.0,357.1 L785.5,357.1 L786.0,357.1 L786.5,357.1 L787.0,357.1 L787.5,357.1 L788.0,357.1 L788.5,357.1 L789.0,357.1 L789.5,357.1 L790.0,357.1 L790.5,357.1 L791.0,357.1 L791.5,357.1 L792.0,357.1 L792.5,357.1 L793.0,357.1 L793.5,357.1 L794.0,357.1 L794.5,357.1 L795.0,357.1 L795.5,357.1 L796.0,357.1 L796.5,357.1 L797.0,357.1 L797.5,357.1 L798.0,357.1 L798.5,357.1 L799.0,357.1 L799.5,357.1 L800.0,357.1 L800.5,357.1 L801.0,357.1 L801.5,357.1 L802.0,357.1 L802.5,357.1 L803.0,357.1 L803.5,357.1 L804.0,357.1 L804.5,357.1 L805.0,357.1 L805.5,357.1 L806.0,357.1 L806.5,357.1 L807.0,357.1 L807.5,357.1 L808.0,357.1 L808.5,357.1 L809.0,357.1 L809.5,357.1 L810.0,357.1 L810.5,357.1 L811.0,357.1 L811.5,357.1 L812.0,357.1 L812.5,357.1 L813.0,357.1 L813.5,357.1 L814.0,357.1 L814.5,357.1 L815.0,357.1 L815.5,357.1 L816.0,357.1 L816.5,357.1 L817.0,357.1 L817.5,357.1 L818.0,357.1 L818.5,357.1 L819.0,357.1 L819.5,357.1 L820.0,357.1 L820.5,357.1 L821.0,357.1 L821.5,357.1 L822.0,357.1 L822.5,357.1 L823.0,357.1 L823.5,357.1 L824.0,357.1 L824.5,357.1 L825.0,357.1 L825.5,357.1 L826.0,357.1 L826.5,357.1 L827.0,357.1 L827.5,357.1 L828.0,357.1 L828.5,357.1 L829.0,357.1 L829.5,357.1 L830.0,357.1 L830.5,357.1 L831.0,357.1 L831.5,357.1 L832.0,357.1 L832.5,357.1 L833.0,357.1 L833.5,357.1 L834.0,357.1 L834.5,357.1 L835.0,357.1 L835.5,357.1 L836.0,357.1 L836.5,357.1 L837.0,357.1 L837.5,357.1 L838.0,357.1 L838.5,357.1 L839.0,357.1 L839.5,357.1 L840.0,357.1 L840.5,357.1 L841.0,357.1 L841.5,357.1 L842.0,357.1 L842.5,357.1 L843.0,357.1 L843.5,357.1 L844.0,357.1 L844.5,357.1 L845.0,357.1 L845.5,357.1 L846.0,357.1 L846.5,357.1 L847.0,357.1 L847.5,357.1 L848.0,357.1 L848.5,357.1 L849.0,357.1 L849.5,357.1 L850.0,357.1 L850.5,357.1 L851.0,357.1 L851.5,357.1 L852.0,357.1 L852.5,357.1 L853.0,357.1 L853.5,357.1 L854.0,357.1 L854.5,357.1 L855.0,357.1 L855.5,357.1 L856.0,357.1 L856.5,357.1 L857.0,357.1 L857.5,357.1 L858.0,357.1 L858.5,357.1 L859.0,357.1 L859.5,357.1 L860.0,357.1 L860.5,357.1 L861.0,357.1 L861.5,357.1 L862.0,357.1 L862.5,357.1 L863.0,357.1 L863.5,357.1 L864.0,357.1 L864.5,357.1 L865.0,357.1 L865.5,357.1 L866.0,357.1 L866.5,357.1 L867.0,357.1 L867.5,357.1 L868.0,357.1 L868.5,357.1 L869.0,357.1 L869.5,357.1 L870.0,357.1 L870.5,357.1 L871.0,357.1 L871.5,357.1 L872.0,357.1 L872.5,357.1 L873.0,357.1 L873.5,357.1 L874.0,357.1 L874.5,357.1 L875.0,357.1 L875.5,357.1 L876.0,357.1 L876.5,357.1 L877.0,357.1 L877.5,357.1 L878.0,357.1 L878.5,357.1 L879.0,357.1 L879.5,357.1 L880.0,357.1 L880.5,357.1 L881.0,357.1 L881.5,357.1 L882.0,357.1 L882.5,357.1 L883.0,357.1 L883.5,357.1 L884.0,357.1 L884.5,357.1 L885.0,357.1 L885.5,357.1 L886.0,357.1 L886.5,357.1 L887.0,357.1 L887.5,357.1 L888.0,357.1 L888.5,357.1 L889.0,357.1 L889.5,357.1 L890.0,357.1 L890.5,357.1 L891.0,357.1 L891.5,357.1 L892.0,357.1 L892.5,357.1 L893.0,357.1 L893.5,357.1 L894.0,357.1 L894.5,357.1 L895.0,357.1 L895.5,357.1 L896.0,357.1 L896.5,357.1 L897.0,357.1 L897.5,357.1 L898.0,357.1 L898.5,357.1 L899.0,357.1 L899.5,357.1 L900.0,357.1 L900.5,357.1 L901.0,357.1 L901.5,357.1 L902.0,357.1 L902.5,357.1 L903.0,357.1 L903.5,357.1 L904.0,357.1 L904.5,357.1 L905.0,357.1 L905.5,357.1 L906.0,357.1 L906.5,357.1 L907.0,357.1 L907.5,357.1 L908.0,357.1 L908.5,357.1 L909.0,357.1 L909.5,357.1 L910.0,357.1 L910.5,357.1 L911.0,357.1 L911.5,357.1 L912.0,357.1 L912.5,357.1 L913.0,357.1 L913.5,357.1 L914.0,357.1 L914.5,357.1 L915.0,357.1 L915.5,357.1 L916.0,357.1 L916.5,357.1 L917.0,357.1 L917.5,357.1 L918.0,357.1 L918.5,357.1 L919.0,357.1 L919.5,357.1 L920.0,357.1 L920.5,357.1 L921.0,357.1 L921.5,357.1 L922.0,357.1 L922.5,357.1 L923.0,357.1 L923.5,357.1 L924.0,357.1 L924.5,357.1 L925.0,357.1 L925.5,357.1 L926.0,357.1 L926.5,357.1 L927.0,357.1 L927.5,357.1 L928.0,357.1 L928.5,357.1 L929.0,357.1 L929.5,357.1 L930.0,357.1 L930.5,357.1 L931.0,357.1 L931.5,357.1 L932.0,357.1 L932.5,357.1 L933.0,357.1" stroke="#5db431" stroke-width="4.7" transform="translate(0,-0.2)"/>
</g>
<line x1="782.4" x2="821.7" y1="226.9" y2="226.9" stroke="#5db431" stroke-width="4.3"/>
<line x1="782.4" x2="821.7" y1="259.8" y2="259.8" stroke="#2c49a0" stroke-width="4.3"/>
<polygon points="0.5,-1.6 12.9,-1.6 12.1,-6.9 25.7,0.0 12.1,6.9 12.9,1.6 0.5,1.6" fill="#e60012" stroke="#e60012" stroke-width="1.4" stroke-linejoin="round" transform="translate(640.8,54.6) rotate(120.3)"/><polygon points="0.5,-1.6 12.9,-1.6 12.1,-6.9 25.7,0.0 12.1,6.9 12.9,1.6 0.5,1.6" fill="#e60012" stroke="#e60012" stroke-width="1.4" stroke-linejoin="round" transform="translate(866.6,129.6) rotate(121.1)"/><polygon points="0.5,-1.6 12.9,-1.6 12.1,-6.9 25.7,0.0 12.1,6.9 12.9,1.6 0.5,1.6" fill="#e60012" stroke="#e60012" stroke-width="1.4" stroke-linejoin="round" transform="translate(643.7,219.4) rotate(121.4)"/><polygon points="0.5,-1.6 12.6,-1.6 11.8,-6.9 25.4,0.0 11.8,6.9 12.6,1.6 0.5,1.6" fill="#e60012" stroke="#e60012" stroke-width="1.4" stroke-linejoin="round" transform="translate(871.9,307.2) rotate(121.1)"/>

<!-- text -->
<g id="txt">
<text x="5.6" y="39.2" font-size="38" textLength="46.2" lengthAdjust="spacingAndGlyphs">(a)</text>
<text x="519.3" y="28.6" font-size="38" textLength="47.2" lengthAdjust="spacingAndGlyphs">(b)</text>
<text x="1.6" y="501.6" font-size="38" textLength="44" lengthAdjust="spacingAndGlyphs">(c)</text>
<text x="535.2" y="495" font-size="38" textLength="48.5" lengthAdjust="spacingAndGlyphs">(d)</text>

<text x="578.8" y="56.3" font-size="32.5" textLength="17" lengthAdjust="spacingAndGlyphs">2</text>
<text x="578.8" y="120.5" font-size="32.5" textLength="17" lengthAdjust="spacingAndGlyphs">1</text>
<text x="578.8" y="184.9" font-size="32.5" textLength="17" lengthAdjust="spacingAndGlyphs">0</text>
<text x="578.8" y="232.5" font-size="32.5" textLength="17" lengthAdjust="spacingAndGlyphs">3</text>
<text x="578.8" y="277.5" font-size="32.5" textLength="17" lengthAdjust="spacingAndGlyphs">2</text>
<text x="578.8" y="322.5" font-size="32.5" textLength="17" lengthAdjust="spacingAndGlyphs">1</text>
<text x="578.8" y="366.5" font-size="32.5" textLength="17" lengthAdjust="spacingAndGlyphs">0</text>

<text x="618.5" y="390.9" font-size="32" textLength="44" lengthAdjust="spacingAndGlyphs">−6</text>
<text x="691" y="390.9" font-size="32" textLength="45" lengthAdjust="spacingAndGlyphs">−3</text>
<text x="766.7" y="390.9" font-size="32" textLength="17" lengthAdjust="spacingAndGlyphs">0</text>
<text x="841.4" y="390.9" font-size="32" textLength="17" lengthAdjust="spacingAndGlyphs">3</text>
<text x="914.7" y="390.9" font-size="32" textLength="17" lengthAdjust="spacingAndGlyphs">6</text>
<text x="676.9" y="430" font-size="33.5" textLength="113.5" lengthAdjust="spacingAndGlyphs">Energy</text>
<text x="808.5" y="430" font-size="33.5" textLength="72" lengthAdjust="spacingAndGlyphs">(eV)</text>
<text transform="translate(540.3,349) rotate(-90)" font-size="33.5" textLength="94" lengthAdjust="spacingAndGlyphs">PDOS</text>
<text transform="translate(540.3,237) rotate(-90)" font-size="33.5" textLength="86" lengthAdjust="spacingAndGlyphs">(arb.</text>
<text transform="translate(540.3,138.3) rotate(-90)" font-size="33.5" textLength="94.5" lengthAdjust="spacingAndGlyphs">units)</text>

<text x="717" y="63.2" font-size="35" textLength="25.5" lengthAdjust="spacingAndGlyphs">H</text>
<text x="855.6" y="53.7" font-size="33" textLength="16.5" lengthAdjust="spacingAndGlyphs">s</text>
<text x="706.6" y="243.2" font-size="35" textLength="41.5" lengthAdjust="spacingAndGlyphs">Se</text>
<text x="830.7" y="231.5" font-size="33" textLength="19.7" lengthAdjust="spacingAndGlyphs">p</text>
<text x="851" y="236.9" font-size="23" class="it" textLength="13.7" lengthAdjust="spacingAndGlyphs">x</text>
<text x="867" y="238.4" font-size="46" textLength="16" lengthAdjust="spacingAndGlyphs">/</text>
<text x="886" y="231.5" font-size="33" textLength="19.7" lengthAdjust="spacingAndGlyphs">p</text>
<text x="907.6" y="236.9" font-size="23" class="it" textLength="11.7" lengthAdjust="spacingAndGlyphs">y</text>
<text x="830.7" y="264.3" font-size="33" textLength="19.7" lengthAdjust="spacingAndGlyphs">p</text>
<text x="852" y="269.6" font-size="23" class="it" textLength="11" lengthAdjust="spacingAndGlyphs">z</text>

<text x="120.2" y="425.3" font-size="32" textLength="19" lengthAdjust="spacingAndGlyphs">0</text>
<text x="340.2" y="425.3" font-size="32" textLength="18.5" lengthAdjust="spacingAndGlyphs">1</text>
<text x="101.8" y="885.4" font-size="32" textLength="18" lengthAdjust="spacingAndGlyphs">0</text>
<text x="322.6" y="885.4" font-size="32" textLength="48.8" lengthAdjust="spacingAndGlyphs">0.2</text>
<text x="628" y="885.4" font-size="32" textLength="18.3" lengthAdjust="spacingAndGlyphs">0</text>
<text x="849" y="885.4" font-size="32" textLength="49" lengthAdjust="spacingAndGlyphs">0.2</text>

<text x="286.4" y="165.9" font-size="34" textLength="25" lengthAdjust="spacingAndGlyphs">H</text>
<text x="276.6" y="236.3" font-size="34" textLength="40.3" lengthAdjust="spacingAndGlyphs">Se</text>
<text class="w" x="164" y="238.2" font-size="34" textLength="48" lengthAdjust="spacingAndGlyphs">Cu</text>

<text x="278.3" y="623.8" font-size="34" textLength="25" lengthAdjust="spacingAndGlyphs">H</text>
<text class="w" x="270.2" y="690.4" font-size="34" textLength="40.6" lengthAdjust="spacingAndGlyphs">Se</text>
<text x="156" y="699.5" font-size="34" textLength="48.5" lengthAdjust="spacingAndGlyphs">Cu</text>

<text x="817.7" y="619.5" font-size="34" textLength="24.5" lengthAdjust="spacingAndGlyphs">H</text>
<text class="w" x="808.4" y="687.6" font-size="34" textLength="40.4" lengthAdjust="spacingAndGlyphs">Se</text>
<text class="w" x="700.2" y="700.4" font-size="34" textLength="48.5" lengthAdjust="spacingAndGlyphs">Cu</text>
</g>
</svg>
</body></html>
